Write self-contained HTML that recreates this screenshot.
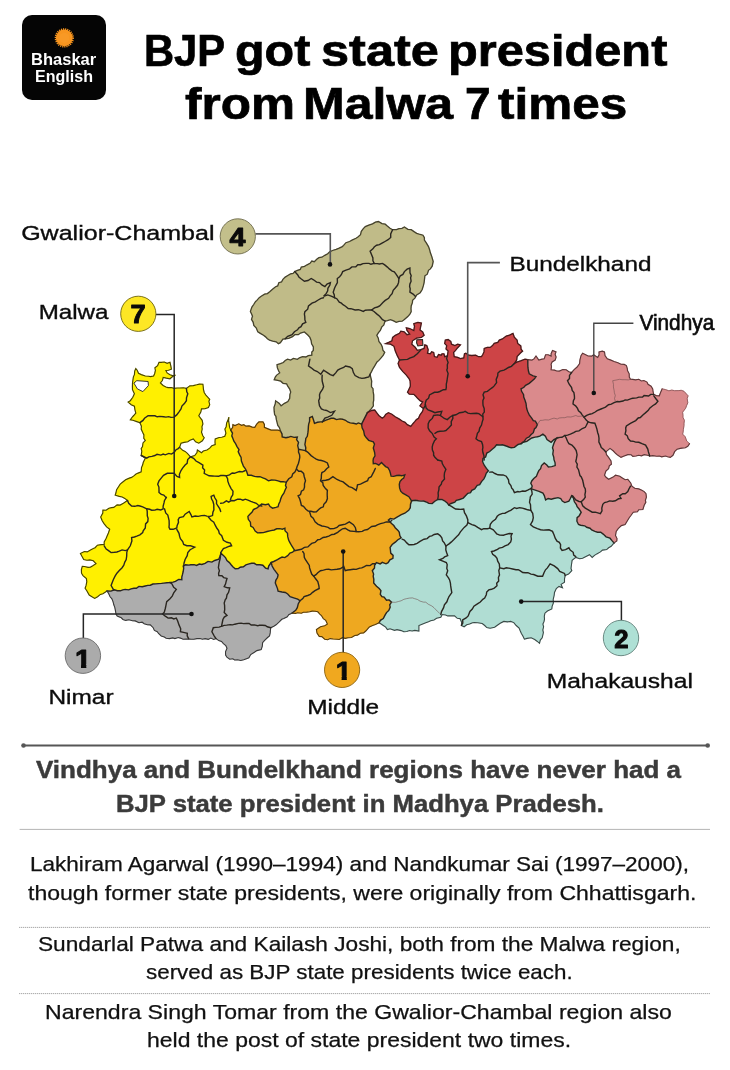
<!DOCTYPE html>
<html lang="en">
<head>
<meta charset="utf-8">
<title>BJP got state president from Malwa 7 times</title>
<style>
html,body{margin:0;padding:0;background:#fff}
body{width:730px;height:1070px;position:relative;overflow:hidden;font-family:"Liberation Sans",sans-serif}
.page{position:absolute;left:0;top:0;width:730px;height:1070px;background:#fff;overflow:hidden}
.ln{position:absolute;white-space:nowrap;line-height:1;transform-origin:0 0;margin:0;padding:0;display:block}
h1,h2,p,.blk{margin:0;padding:0}
.logo{position:absolute;left:22px;top:15.2px;width:84.3px;height:84.9px;background:#050505;border-radius:10px}
.sun{position:absolute;left:55.3px;top:28.9px;width:18px;height:18px;border-radius:50%;background:radial-gradient(circle,#f9a02c 0,#f7941e 60%,#f08c18 100%);box-shadow:0 0 1.2px 0.6px rgba(247,148,30,.85)}
.rule{position:absolute;height:0}
.map{position:absolute;left:0;top:0;width:730px;height:1070px}
.map text{font-family:"Liberation Sans",sans-serif}
</style>
</head>
<body>
<div class="page">
<div class="logo"></div>
<svg class="map" width="730" height="1070" viewBox="0 0 730 1070">
<g stroke-linejoin="miter" stroke-linecap="round">
<path d="M367.4 412.6 L369.2 410.9 L371.4 408.7 L373.4 405.8 L373.2 402.9 L373.7 400.1 L373.7 398.2 L373.7 394.8 L373.2 391.9 L373 388.7 L371.5 386.8 L371.5 383.8 L371.7 381.1 L370.7 377.1 L370.1 374.2 L371.5 371.6 L372.9 368.8 L374.7 365.9 L377 361.9 L378.9 360.4 L381.1 357.8 L383.3 355.1 L384.7 352.3 L382.9 350.3 L382.3 347 L381.1 344.3 L378.9 341.5 L378.3 338.2 L376.8 335.3 L378.3 332.9 L380.3 330.5 L381.8 326.9 L383.7 325.1 L385.1 321 L387.4 320.6 L390.5 319.6 L393.6 320.9 L396.2 322.3 L396.2 322.3 L399 321.3 L402.1 321.2 L404.4 319.6 L407.8 316.6 L409.9 314.1 L411.2 311.5 L411 308.7 L411.2 305.9 L412.4 302.7 L412.6 300.4 L414.9 298.1 L416.7 294.9 L420.2 292.7 L422.2 289.5 L423.3 285.9 L424.1 282.6 L424.6 278.4 L424.9 275.8 L427.3 274.2 L428.5 270.3 L430.4 268.9 L432.2 266.2 L433.2 261.5 L431.8 256.6 L430.3 252.6 L429.6 249.7 L428.5 246.6 L426.3 242.9 L424.4 240 L424.4 237.7 L423 235.2 L420.2 234.5 L416.7 233.3 L414.4 231.9 L411.2 229.7 L407.9 229.3 L404.4 227 L402 228.4 L398.9 228.6 L396.5 229.7 L392.6 229.7 L390 228.2 L387.3 226 L385.2 224.2 L382 223.6 L378.4 221.5 L375.4 222.1 L372.5 223.8 L368.8 225.1 L365.3 226.6 L363.3 228.6 L361.3 231.3 L360.5 234.7 L357.9 237 L356 238.3 L352 240.2 L349.6 241.5 L345.9 242.7 L343.6 245.4 L342.3 246.6 L338.6 248.4 L336.1 249.3 L332.5 250.5 L329.7 251.8 L327.7 253.8 L324.8 255.3 L321.9 257.2 L318.9 257.7 L316.7 259.3 L314.3 261.7 L311.8 261.1 L310 263.3 L307.1 264.8 L304.5 266.3 L301.3 267 L300.3 269.4 L296.8 270.6 L294.8 271.6 L293.1 273.4 L290.5 273.9 L287.8 275.5 L285.2 277.1 L282.9 279.4 L281.5 282 L278.8 282.7 L277.7 285.9 L275.6 286.7 L272.8 288.9 L270 291.5 L267.4 293.6 L264.6 294.1 L261.2 296.2 L259.2 297.7 L256.9 300.4 L255.6 301.5 L253.7 304.5 L251.9 307.1 L250.4 311.4 L251.7 314.2 L252.5 316.2 L251.5 319.4 L253.2 322.3 L253.8 325.4 L256.3 328 L257.8 331.9 L260.3 333.4 L263.5 335.3 L265.3 336.6 L267.4 338.8 L269.5 340.1 L272.7 341.1 L276.2 341.8 L278.4 343.7 L280.4 342.7 L282.9 339.2 L285.2 338.8 L288.7 338.4 L292.5 336.7 L294.8 334.7 L298.3 334.7 L300.5 333 L304.4 331.9 L307.8 335 L309.9 337.4 L311.1 340.5 L311.6 343.8 L313.4 347 L313.3 350.5 L311.8 352.1 L311.8 355.2 L308.3 355.6 L305.8 357 L302.5 356.7 L299.4 357.8 L297.4 359.3 L293.4 358.4 L290.6 360.1 L287.6 359.2 L285.2 360.5 L283.3 362.5 L280.4 363.6 L277 364.7 L277.4 367.9 L278.6 370.7 L279.7 372.9 L276.7 375.1 L275.4 376.8 L274.2 379.7 L277.8 380.4 L280.7 381.2 L283.1 383.3 L286.6 383.8 L287.6 385.9 L289.7 389.1 L290.7 392.1 L289.9 394.6 L289.7 398.4 L287.9 401.6 L284.5 403.3 L281.1 405.8 L279.3 403.4 L275.6 400.8 L275.3 403.6 L274 407.4 L274.2 411.2 L274.6 414.6 L275.9 416.3 L276.4 419.9 L277 422.2 L277.8 425.5 L279.4 427.5 L280.5 431 L280.5 431 L282 434 L282.2 437 L285.9 437.8 L288.2 437.3 L290.8 436.4 L294 437.4 L297.3 437 L296.6 439.7 L298.5 442.4 L297.7 445.6 L298.6 449.3 L301.8 449.9 L305.5 450.7 L305.8 447.8 L304.9 444.5 L305.5 441.1 L305.8 438.4 L307.3 436.3 L307.9 432.7 L308.2 430.1 L308.4 426.4 L308.7 424.1 L309.6 421.1 L309.6 417.8 L312.3 416.4 L313.2 419 L314.5 423.3 L317.5 422.3 L320.5 421.9 L322.7 421.6 L325.4 420.4 L328.8 419.2 L331.1 418.3 L333.8 418.3 L336.5 419.6 L340.1 418.9 L342.5 419.2 L345.5 420.3 L347.7 422 L350.2 422.9 L353.4 423.3 L356.4 424 L358.3 422.9 L361.6 424.1 L361.6 424.1 L367.4 412.6Z" fill="#c0bb88" stroke="#c0bb88" stroke-width="0.6"/>
<path d="M367.4 412.6 L371.5 410.5 L374.7 410 L377.2 413.4 L378.8 415.5 L382.3 418.2 L384.4 416.6 L385.6 414.4 L388.4 412.7 L391.9 414.2 L395.2 416.8 L399 418.9 L402.1 421 L405.1 422.3 L407.3 424.7 L410.8 426.4 L412.9 423.7 L414.7 421.7 L416.4 419.6 L418.5 418.2 L420 414.8 L422.5 411.4 L423.4 408.6 L419.9 405.9 L422.6 401.8 L420.3 400.9 L417.8 398.6 L415.8 396.3 L413.8 394.3 L409.2 394.1 L407.5 392.2 L408.5 390.2 L410.3 386.4 L410.3 384 L410.1 380.9 L409 378.5 L406.3 375.1 L402.9 371.6 L399.5 367.5 L398.1 363.4 L399.5 360 L397.4 355.9 L395.3 351.1 L394 346.3 L390.5 344.2 L385.8 343.6 L389.2 342.2 L391.9 340.8 L392.6 337.4 L395.3 335.3 L399.5 333.3 L400.8 331.2 L404.2 331.9 L407 334.7 L409.7 334 L407 330.5 L406.3 327.8 L409.7 328.5 L413.8 330.5 L414.5 326.4 L413.8 323.7 L417.9 322.3 L421.4 323 L420.7 326.4 L420 329.9 L422.7 331.9 L424.1 335.3 L421.4 337.4 L416.6 338.1 L412.5 340.8 L411.8 344.2 L415.2 347.3 L417.3 350.4 L420.7 349.7 L424.1 348.4 L424.8 344.9 L426.8 345.6 L428.2 349.7 L427.5 353.2 L430.3 353.8 L431.6 351.8 L433.7 352.5 L434.4 356.6 L437.1 357.3 L438.5 354.5 L441.2 355.2 L441.9 353.8 L444 353.8 L444.7 356.6 L447.4 355.9 L448.1 351.1 L446 349 L446.7 345.6 L444.7 343.6 L445.3 340.1 L448.1 339.5 L450.8 341.5 L451.5 344.2 L454.9 345.6 L457.7 344.2 L460.4 344.9 L457.7 347.7 L455.6 350.4 L453.6 352.5 L454.2 356.6 L457.7 357.3 L460.4 358.6 L463.8 357.9 L464.5 353.8 L465.9 353.2 L468.6 355.2 L471.8 355.5 L475.7 355.2 L478.5 356.7 L481.5 356.6 L482.8 354.5 L484 351.9 L484.2 348.4 L487.3 347.3 L490.2 347.4 L492.5 345.6 L494.2 343.4 L497.8 342.4 L499.3 340.1 L502.4 338.9 L506.2 336 L509.5 335.1 L513 333.3 L514.3 337.1 L517.1 340.1 L517.7 343.4 L520.8 345.9 L521.1 349.2 L522.6 351.1 L520.2 353.2 L517.1 356.6 L516.7 359.9 L514.4 363.4 L516.9 362.1 L521.2 360.7 L525 359.2 L527.8 359.6 L527.8 359.6 L527.8 364.2 L527.9 367.4 L528.4 370.8 L529.2 373.8 L533.1 375.9 L536 376.6 L534.5 378.9 L531.7 381.2 L529.2 383.4 L525.6 385.3 L523.9 387.3 L521 388.9 L521.6 391.3 L523.6 394.7 L523.7 397.1 L524.9 400.1 L526 403.5 L526.4 406.7 L526.8 409 L527.9 412 L529.2 414.9 L531.5 417.9 L533.3 420.6 L535.3 421.2 L537.4 424.5 L536 427.5 L534.4 429 L533.3 432.7 L530.9 434.8 L529.1 436.9 L526.4 438.2 L524.1 441.5 L521 443.7 L521 443.7 L518.1 444.5 L514.4 447.4 L511.2 447.8 L508.8 447 L506.2 446 L502.5 444.8 L500.1 445 L496.6 444.7 L494.6 447.3 L492.2 449.3 L489.7 451.5 L486.8 453.1 L485.6 457 L482.9 458.4 L482.6 461.7 L484.2 465.2 L486.4 468.4 L488.4 470.7 L486.2 473.4 L485.4 475.8 L483.9 478.9 L481.5 481.6 L479.7 484.7 L477.2 485.3 L474.7 488.9 L471.8 490.3 L470.5 492.6 L467.8 493.3 L465.5 495.8 L463.3 498.1 L459.6 499.5 L456.3 500.4 L454.8 502.2 L451.1 503.5 L448.6 504.9 L447.2 502.9 L444.5 500.8 L441.9 499.4 L437.7 499.5 L434.5 501.5 L432.2 503.6 L428.8 503.4 L427.2 502.3 L423.6 501 L420.9 501.1 L418.5 500.8 L415.3 500.2 L411.6 500.8 L411.6 500.8 L408.9 496.7 L405.4 494.7 L402.7 493.2 L400.7 491.2 L399.6 487.9 L399.3 484.4 L400 481.5 L401.7 479.5 L403.7 478.1 L404.8 474.8 L401.6 475.8 L399.1 475.3 L396.7 475.5 L393.7 476.4 L391.1 476.2 L390.5 473.6 L389.7 470.7 L387.8 467.5 L385.6 466.6 L383.2 464.3 L381.5 462.5 L378.8 465.2 L375.7 463.4 L373.3 463.8 L373.1 460.5 L373.4 458.4 L375 455.8 L374.7 452.9 L374 450.2 L373.3 448 L374.5 444.1 L373.3 441.9 L368.7 440.3 L366.4 437.8 L364.5 435.1 L363.7 431 L362.1 427.8 L361.6 424.1 L361.6 424.1 L367.4 412.6Z" fill="#cd4446" stroke="#cd4446" stroke-width="0.6"/>
<path d="M527.8 359.6 L531.9 360.1 L534 358.9 L536 356 L538.8 360.1 L542 359.1 L544.2 358.8 L545.6 354.7 L548.2 354.7 L551.1 356 L551.1 353.7 L552.5 350.5 L556 351.9 L555.1 354.2 L556.1 357 L555.2 360.1 L552.1 362 L551.1 364.2 L551.5 366.4 L551.1 369.7 L554.5 370.1 L556.7 371 L559.3 371.1 L562.8 369.5 L566.2 369.7 L568.9 371.8 L571.6 372.5 L574.1 369.6 L577.1 367 L579.6 363.5 L579.9 360.1 L581 355.7 L582.6 353.3 L585.7 354.8 L588.1 356 L591.7 356.1 L593.6 354.7 L597.7 357.4 L599.1 354.9 L599 351.9 L602.3 351.1 L604.5 351.9 L605 355.5 L607.3 358.8 L610.3 359.9 L614.1 361.5 L617.9 362.7 L621 364.2 L624.2 364.4 L626.4 365.6 L627.3 368.5 L627.5 370.6 L629.2 373.8 L629.3 377.1 L630.5 379.3 L632.8 379.4 L635.6 379.8 L638.8 379.3 L641.4 381 L643.9 380.5 L647 382.1 L648 384.3 L651.1 386.2 L652.7 388.9 L653.1 392 L653.8 394.4 L656.3 395.6 L659.3 395.8 L660.8 391.9 L662.1 388.9 L665.2 389.5 L668.9 390.8 L671.8 390.1 L674.6 390.7 L678.9 390.6 L681.2 390.3 L684 391.3 L686.5 394.1 L688.1 395.8 L687.2 398.6 L687.8 402.9 L686.7 405.3 L685.6 408.3 L682.6 412.2 L683 415.6 L682.9 417.2 L684.4 420.4 L684 423.2 L684 425.4 L683.4 429.3 L683.1 432.1 L682.6 434.1 L685.2 436.8 L686.7 441 L689.5 443.7 L687.8 446.3 L685.3 447.8 L681.9 448.1 L680.4 448.4 L677.1 449.2 L674.6 451.7 L673 455.3 L670.3 457.4 L667.6 456.8 L665.5 456 L661.7 456.9 L659.3 456 L656.8 456.2 L652.7 455.7 L649.7 456 L647.5 455.3 L644.2 454.7 L641.5 455.8 L638.7 455.3 L636 456 L632.8 456.3 L631.2 454.8 L627.8 454.7 L623.5 456.3 L621 457.4 L617.6 455.1 L615.5 453.3 L613.4 451 L610 448.4 L605.9 451.9 L606.5 454.7 L608.6 457.4 L611 460.9 L611.4 464.2 L609.3 465.9 L608.6 468.6 L605.9 471.1 L604.5 475.2 L605.8 477 L608.6 479.3 L613.1 477.1 L615.5 475.2 L619.8 476.3 L622.3 477.9 L625.2 479.7 L627.8 479.3 L630.7 483 L631.9 486.2 L634.7 488.2 L638.8 488.9 L641.8 490.2 L644.2 491.6 L646 493.7 L646.4 497.1 L645.4 500.2 L645.8 502.3 L644.2 505.3 L642.9 509.5 L638.7 509.8 L637.5 511.7 L633.3 512.2 L630.9 515.5 L629.2 517.7 L626.8 521.7 L625.1 524.5 L621.4 525.6 L618.2 528.6 L616.2 531.4 L615.5 535.5 L617 538.5 L616.8 541 L614.1 542.9 L614.1 542.9 L612.2 540.9 L610 538.2 L606.1 536.8 L603.2 534.1 L600.7 532.3 L597.6 532.2 L594.9 531.4 L591.7 529.9 L590 528.2 L586.7 527.3 L584.7 525.8 L580.7 525.2 L578.5 524.5 L576.9 521.2 L577.1 517.7 L579.3 515.7 L581.2 512.2 L579.1 509 L577.1 506.7 L576.4 504.5 L574.4 501.8 L573.3 497.8 L571.6 495.8 L570.2 498.8 L568.9 501.2 L564.8 502.6 L562.3 501.1 L560.7 498.5 L558 497.6 L553.8 498.5 L551.2 499.2 L548.2 498.5 L545.6 499.9 L544.3 495.6 L542.9 493 L539 491.4 L536 490.3 L531.4 488.9 L532.2 486 L530.8 483.2 L531.9 480.7 L533.8 478.5 L536.4 476.4 L537.4 473.8 L538.8 470.6 L540.6 468.6 L541.5 465.6 L544.2 462.9 L546.8 465 L548.4 467 L551.7 466.6 L555.2 465.6 L555.1 462.8 L554 459.7 L553.8 457.4 L552.8 454.2 L553.3 450.4 L552.5 447.8 L553.6 444.3 L554.5 441.9 L556.6 438.2 L553.9 439.6 L551.1 442.3 L547 439.6 L545.4 436.3 L542.9 434.1 L539.8 436.2 L537.4 436.8 L535 437.1 L531.8 438 L529.2 439.6 L526.8 441.4 L522.9 442.2 L521 443.7 L521 443.7 L524.1 441.5 L526.4 438.2 L529.1 436.9 L530.9 434.8 L533.3 432.7 L534.4 429 L536 427.5 L537.4 424.5 L535.3 421.2 L533.3 420.6 L531.5 417.9 L529.2 414.9 L527.9 412 L526.8 409 L526.4 406.7 L526 403.5 L524.9 400.1 L523.7 397.1 L523.6 394.7 L521.6 391.3 L521 388.9 L523.9 387.3 L525.6 385.3 L529.2 383.4 L531.7 381.2 L534.5 378.9 L536 376.6 L533.1 375.9 L529.2 373.8 L528.4 370.8 L527.9 367.4 L527.8 364.2 L527.8 359.6Z" fill="#da8a8c" stroke="#da8a8c" stroke-width="0.6"/>
<path d="M614.1 542.9 L611.2 546.3 L608.6 547.8 L606.7 549.6 L602.5 550.1 L600.4 551.9 L596.8 553.9 L594.5 555.4 L592.2 557.4 L589.5 554.7 L586 556.4 L582.6 558.2 L579.7 558.8 L575.8 557.4 L572.1 560.4 L571.4 565.2 L571 568.5 L571.8 570.7 L568.6 574.1 L565.2 575.5 L564.5 578.9 L564.5 582.3 L561.1 584.4 L562.5 587.8 L559 586.4 L556.3 588.5 L554.5 592.4 L554.2 595.1 L553.2 599.5 L553.4 602.9 L552.1 606.4 L551.8 609 L547.4 611 L544.9 613.2 L544.3 616.3 L544.5 619.1 L544 621.6 L542.9 624.1 L543.6 626.8 L542.8 630 L543.4 632.5 L542.7 635.5 L542.2 637.8 L540.3 640.1 L539.5 643.3 L537 641.2 L534.7 639.5 L531.2 637.8 L527 638.4 L524.4 639.2 L522.9 635.9 L521.4 633.5 L520.3 631 L519.1 628 L516.2 625.5 L513.8 622.6 L510.7 621.4 L507.5 621.9 L503.8 621.4 L500.2 623.3 L497 625.5 L494.6 627.3 L490.1 628.2 L486.8 627.6 L484.7 625.5 L482.2 623.5 L477.8 622.7 L474.3 622.5 L472.5 622.7 L469.6 624.1 L466.7 624.8 L464.1 626.8 L461.4 625.5 L461.6 622.2 L460 618.6 L457.3 618.3 L454.5 615.9 L451.6 615.7 L447.7 615.9 L445.6 615 L442.2 614.5 L440.8 617.3 L436.6 618.3 L434 620 L430.7 620.7 L428.5 621.7 L425.8 622.7 L422.7 623.9 L418.9 625.5 L418.9 628.4 L418.9 631 L414.8 630.4 L412.1 631 L409.5 630.5 L406.8 631.5 L403.8 631.8 L401.2 630.6 L397 629.6 L394.5 630.3 L390 628.8 L387.4 629.6 L385.7 627.1 L383.3 625.5 L379.2 622.7 L379.2 622.7 L380.4 620.3 L383.3 618.6 L384.9 615.4 L386.5 612.6 L388.8 610.4 L390.2 607.1 L389.7 604.9 L391.5 602.2 L389.1 599.9 L386.5 600.2 L384.1 597.1 L381.9 596.7 L380.3 594.3 L380.9 590.6 L379.2 588.5 L376.5 586.2 L373.7 583 L373.8 579.3 L373.2 576.2 L373.6 574.1 L372.3 570.7 L374.5 567.9 L374.6 565.3 L376.4 562.5 L380.2 563.9 L382.3 562.4 L386 563.8 L388.1 562.6 L389.9 559.9 L392.9 558.4 L393.1 555.4 L390.7 553.1 L390.5 550.7 L390.1 547.4 L392.2 544.5 L395.6 541.9 L397.6 540 L401.1 537.8 L399.8 535.6 L399.3 532.3 L398 530.4 L395.2 527.7 L393.8 525.5 L391.5 523.4 L388.4 520 L390.3 518.6 L393.8 519.1 L396.6 517.3 L398.7 516.2 L401.3 514.6 L404.8 513.2 L408.7 510.3 L410.3 507.7 L410.5 504.2 L411.6 500.8 L411.6 500.8 L415.3 500.2 L418.5 500.8 L420.9 501.1 L423.6 501 L427.2 502.3 L428.8 503.4 L432.2 503.6 L434.5 501.5 L437.7 499.5 L441.9 499.4 L444.5 500.8 L447.2 502.9 L448.6 504.9 L451.1 503.5 L454.8 502.2 L456.3 500.4 L459.6 499.5 L463.3 498.1 L465.5 495.8 L467.8 493.3 L470.5 492.6 L471.8 490.3 L474.7 488.9 L477.2 485.3 L479.7 484.7 L481.5 481.6 L483.9 478.9 L485.4 475.8 L486.2 473.4 L488.4 470.7 L486.4 468.4 L484.2 465.2 L482.6 461.7 L482.9 458.4 L485.6 457 L486.8 453.1 L489.7 451.5 L492.2 449.3 L494.6 447.3 L496.6 444.7 L500.1 445 L502.5 444.8 L506.2 446 L508.8 447 L511.2 447.8 L514.4 447.4 L518.1 444.5 L521 443.7 L521 443.7 L522.9 442.2 L526.8 441.4 L529.2 439.6 L531.8 438 L535 437.1 L537.4 436.8 L539.8 436.2 L542.9 434.1 L545.4 436.3 L547 439.6 L551.1 442.3 L553.9 439.6 L556.6 438.2 L554.5 441.9 L553.6 444.3 L552.5 447.8 L553.3 450.4 L552.8 454.2 L553.8 457.4 L554 459.7 L555.1 462.8 L555.2 465.6 L551.7 466.6 L548.4 467 L546.8 465 L544.2 462.9 L541.5 465.6 L540.6 468.6 L538.8 470.6 L537.4 473.8 L536.4 476.4 L533.8 478.5 L531.9 480.7 L530.8 483.2 L532.2 486 L531.4 488.9 L536 490.3 L539 491.4 L542.9 493 L544.3 495.6 L545.6 499.9 L548.2 498.5 L551.2 499.2 L553.8 498.5 L558 497.6 L560.7 498.5 L562.3 501.1 L564.8 502.6 L568.9 501.2 L570.2 498.8 L571.6 495.8 L573.3 497.8 L574.4 501.8 L576.4 504.5 L577.1 506.7 L579.1 509 L581.2 512.2 L579.3 515.7 L577.1 517.7 L576.9 521.2 L578.5 524.5 L580.7 525.2 L584.7 525.8 L586.7 527.3 L590 528.2 L591.7 529.9 L594.9 531.4 L597.6 532.2 L600.7 532.3 L603.2 534.1 L606.1 536.8 L610 538.2 L612.2 540.9 L614.1 542.9Z" fill="#b0ddd3" stroke="#b0ddd3" stroke-width="0.6"/>
<path d="M379.2 622.7 L375.4 624.6 L372.6 625.5 L369.4 626.9 L367.9 628.6 L365.8 631 L363.6 632.9 L360.3 633.2 L357.5 635.1 L354.8 635.5 L351.5 637.5 L347.9 637.8 L345.3 638.4 L342.4 637.7 L339.2 639.5 L337 639.2 L333.2 639 L330.1 638.6 L327.7 639.7 L324.7 639.2 L321.8 636.6 L319.2 636.4 L317 633.1 L316.4 629.6 L320.5 626.8 L324.7 625.7 L327.4 624.1 L325.7 620.3 L323.3 618.6 L321.4 615.5 L319.8 614.1 L317.8 611.8 L315.1 611.3 L312.2 611.1 L309.6 611.8 L306.8 612.1 L303.4 612.3 L301.4 613.2 L297.5 612.8 L295.6 613.4 L291.8 613.2 L291.8 613.2 L295.7 610.3 L297.3 607.7 L298.3 603.7 L300 600.8 L297.7 599.2 L294.5 598.1 L290.1 596.6 L287.7 594 L285.3 592.5 L282 592 L278.1 591.2 L277.5 588.6 L276.2 585.2 L275.3 583 L275.8 580.3 L277.5 577.5 L278.1 574.8 L276.1 572.2 L274 569.3 L272.1 566 L271.2 562.5 L271.2 562.5 L273.7 561.5 L277.5 559.7 L279.5 558.4 L282.1 557.1 L284.8 557.6 L287.7 555.6 L289.9 553.1 L292.6 552.2 L294.5 550.1 L291.8 546 L289.8 542.3 L288.6 540.1 L287.7 536.4 L287.5 533.3 L285 530.8 L284.9 528.2 L282.4 529.2 L279.9 528.6 L276.7 528.8 L274.2 530 L270.8 530.6 L267.1 531.5 L263.4 532.6 L260.5 532.7 L257.5 532.9 L255.2 531.1 L253.1 527.5 L250.7 526 L250.4 522.2 L248.3 519.3 L247.9 516.4 L249.6 514.5 L252.1 512.1 L253.4 509.6 L257 507.9 L259.7 505.8 L261.6 504.1 L265.4 504.7 L268.5 504.1 L270.1 506.6 L272.6 508.2 L275.9 507.4 L278.1 506.8 L278.7 504.2 L280.1 501.2 L280.8 498.6 L282 495.8 L284 493 L284.9 490.4 L286.4 487.2 L285.5 485.6 L286.3 482.2 L283.2 481.6 L280.6 481.7 L278.1 480.8 L275.1 480.1 L271.4 480 L268.5 480.8 L265.5 478.8 L262.8 477.8 L260 476.7 L257.5 476.7 L254.4 476.4 L251.3 475.3 L247.9 475.3 L246.5 471 L245.2 468.5 L243.4 466.1 L242.5 463.8 L241.4 461.1 L241.1 457.5 L239.8 455.1 L238.2 451.7 L239 449.6 L237 446.6 L235.4 443.3 L233.9 441.2 L232.9 438.4 L231.8 435.9 L232.5 433.2 L230.7 430.1 L230.7 430.1 L232.7 427.4 L232.9 424.7 L235 425.6 L238.8 423.8 L241.5 425.3 L243.8 424.7 L245.9 426.2 L249.1 425.9 L252.2 427.1 L254.8 427.4 L256.7 424 L258.9 421.9 L263 421.9 L264.4 424.4 L264.4 427.4 L267.4 428.6 L271.2 430.1 L273.7 430 L278 430.1 L280.5 431 L280.5 431 L282 434 L282.2 437 L285.9 437.8 L288.2 437.3 L290.8 436.4 L294 437.4 L297.3 437 L296.6 439.7 L298.5 442.4 L297.7 445.6 L298.6 449.3 L301.8 449.9 L305.5 450.7 L305.8 447.8 L304.9 444.5 L305.5 441.1 L305.8 438.4 L307.3 436.3 L307.9 432.7 L308.2 430.1 L308.4 426.4 L308.7 424.1 L309.6 421.1 L309.6 417.8 L312.3 416.4 L313.2 419 L314.5 423.3 L317.5 422.3 L320.5 421.9 L322.7 421.6 L325.4 420.4 L328.8 419.2 L331.1 418.3 L333.8 418.3 L336.5 419.6 L340.1 418.9 L342.5 419.2 L345.5 420.3 L347.7 422 L350.2 422.9 L353.4 423.3 L356.4 424 L358.3 422.9 L361.6 424.1 L361.6 424.1 L362.1 427.8 L363.7 431 L364.5 435.1 L366.4 437.8 L368.7 440.3 L373.3 441.9 L374.5 444.1 L373.3 448 L374 450.2 L374.7 452.9 L375 455.8 L373.4 458.4 L373.1 460.5 L373.3 463.8 L375.7 463.4 L378.8 465.2 L381.5 462.5 L383.2 464.3 L385.6 466.6 L387.8 467.5 L389.7 470.7 L390.5 473.6 L391.1 476.2 L393.7 476.4 L396.7 475.5 L399.1 475.3 L401.6 475.8 L404.8 474.8 L403.7 478.1 L401.7 479.5 L400 481.5 L399.3 484.4 L399.6 487.9 L400.7 491.2 L402.7 493.2 L405.4 494.7 L408.9 496.7 L411.6 500.8 L411.6 500.8 L410.5 504.2 L410.3 507.7 L408.7 510.3 L404.8 513.2 L401.3 514.6 L398.7 516.2 L396.6 517.3 L393.8 519.1 L390.3 518.6 L388.4 520 L391.5 523.4 L393.8 525.5 L395.2 527.7 L398 530.4 L399.3 532.3 L399.8 535.6 L401.1 537.8 L397.6 540 L395.6 541.9 L392.2 544.5 L390.1 547.4 L390.5 550.7 L390.7 553.1 L393.1 555.4 L392.9 558.4 L389.9 559.9 L388.1 562.6 L386 563.8 L382.3 562.4 L380.2 563.9 L376.4 562.5 L374.6 565.3 L374.5 567.9 L372.3 570.7 L373.6 574.1 L373.2 576.2 L373.8 579.3 L373.7 583 L376.5 586.2 L379.2 588.5 L380.9 590.6 L380.3 594.3 L381.9 596.7 L384.1 597.1 L386.5 600.2 L389.1 599.9 L391.5 602.2 L389.7 604.9 L390.2 607.1 L388.8 610.4 L386.5 612.6 L384.9 615.4 L383.3 618.6 L380.4 620.3 L379.2 622.7Z" fill="#eea820" stroke="#eea820" stroke-width="0.6"/>
<path d="M230.7 430.1 L229.6 427.4 L229.1 423.9 L228.6 420.6 L228.9 417.1 L227.9 420.3 L226.6 423.1 L226.2 426.7 L224.9 429 L225.9 433.1 L224.8 436.3 L221.8 437.3 L219.1 437.5 L215.2 439 L215 441.9 L215.2 444.5 L211.8 445.8 L209.7 448.1 L207 450 L203.3 451 L201.5 452.7 L197.4 450 L197 452.6 L194.7 455.5 L190.5 456.8 L187.4 453.4 L185.1 451.4 L182.7 450.3 L179.6 447.3 L181 443.2 L184.1 442.4 L187.8 441.8 L190 440.2 L193.3 439 L195.6 441.8 L198.8 443.2 L202.4 440.8 L204.2 437.7 L202.8 435.8 L201.5 432.2 L202.2 429 L201.9 426.9 L202.9 424 L202.2 420.3 L200.5 418.1 L198.8 415.8 L200.8 412.1 L201.5 408.9 L205 408.8 L208.4 407.5 L209.7 404.7 L208.9 401.4 L209.7 399.3 L207.7 397.2 L206.1 395.5 L204.2 392.5 L203.4 389.1 L203.3 387.5 L202.9 384.2 L199.4 384.1 L196.7 384.8 L193.3 385.6 L189.9 385.9 L186.4 388.4 L183.4 387.8 L179.6 388 L177.2 388 L174.1 388.4 L171.3 387.5 L168 387.6 L165.9 387 L163.1 385.5 L160.4 382.9 L162.4 380.5 L163.2 377.4 L166.3 378.1 L170 378.8 L173.2 376.1 L175.5 375.2 L173.2 375.9 L170 374.7 L167.1 372.9 L165.9 370.5 L168.5 370.2 L171.4 369.2 L170.8 365.8 L170 362.3 L167.1 363.3 L164.3 362 L161.1 362.4 L159 362.3 L157.6 365.6 L154.9 367.8 L155.4 370.5 L154.7 373.5 L153.6 376 L150.5 376.6 L148.5 376.3 L145.3 376 L141.3 374.6 L138.5 373.3 L137.2 370.2 L135.8 368.6 L134.7 371.1 L134.4 374.7 L133.4 376.8 L132.9 380.2 L132.5 382.9 L132.4 387 L132.5 389.7 L134.4 393.8 L132.8 397.3 L130.3 400.7 L128.1 402.1 L131.2 404.7 L134.4 406.2 L134.9 409.6 L135.8 413 L133.7 415.5 L132.3 417 L130.3 419.9 L132.9 420.3 L136.8 421.6 L139.9 422.6 L141.4 426.2 L141.2 429.1 L142.6 432.2 L143.9 434.9 L143.8 438.4 L145.3 440.4 L143 442.9 L142.5 446.6 L141.2 448.6 L141.8 451.2 L141.2 455.5 L145.3 458.2 L143.3 462.3 L142.6 465.1 L141.5 467.6 L141.2 471.9 L138.1 473.1 L135.7 474.3 L134.2 475.6 L131.6 477.4 L129.3 478.1 L125.6 479.7 L123.4 481.5 L120.2 484.1 L119 486 L116.6 489.7 L115.9 493 L115.2 495.2 L119.3 496.4 L122.2 497 L124.8 498.4 L127.5 500.5 L123.4 503.3 L120.1 505.1 L117.1 504.9 L113.8 507.4 L111.6 507.6 L108.9 508.3 L106.1 510.2 L102.9 510.1 L102.8 513.1 L100.7 517 L102.2 520.7 L104.2 523.8 L106.6 526.9 L109.7 529.3 L108.4 533 L107 536.2 L106.2 538.2 L104.2 541.9 L104.2 544.4 L101.1 544.6 L97.4 545.2 L95.1 547.7 L93.3 548.6 L90.5 549.9 L87.2 551.9 L84.4 551.5 L80.4 553.4 L81.8 556.1 L83.7 559.5 L86.9 560.2 L89.9 559.9 L93.3 560.8 L96 563.6 L92.8 565.8 L90.5 567.1 L88 567.3 L84.5 566.5 L82.3 566.3 L81.4 569.6 L81.5 573.2 L83 575.6 L86.4 578.6 L86.8 581.7 L86.1 585.4 L85.1 588.2 L86.8 590.8 L89.2 595.1 L91.5 596.4 L94.7 598.4 L97.6 596.7 L100.4 594.4 L102.9 593.7 L107 591 L107 591 L111 591.1 L114.3 589.8 L117.4 590.7 L120.4 590.8 L122.8 589.9 L125.2 589.4 L128.6 589.9 L131.1 588.8 L133.9 588.2 L136.4 588.3 L138.9 586.4 L142.2 586.8 L145.2 586 L147.8 585.4 L150.3 585.2 L152.9 584 L155.7 583.9 L158.3 583.6 L161.5 583.4 L163.9 583.1 L166.9 582.7 L169.5 582.5 L173.1 582.1 L175.4 581.3 L178.7 579.4 L181.8 579.7 L181.8 577 L182.5 574.4 L183.2 571.5 L183.7 568.1 L183.2 566 L185.5 564.8 L189 565.1 L190.7 564.7 L194.1 564.7 L196.5 565.4 L199.3 564 L201.8 564.5 L205.1 563.3 L208 561.4 L211.9 562.1 L214.7 560.5 L218.8 559.2 L220 556.3 L221 553.2 L223.9 555.9 L225.6 557.8 L226.9 560.6 L229.4 562.6 L231.1 564.7 L232.8 566.7 L235.2 568.8 L238.4 568.5 L240.2 567.2 L243.4 566.8 L245.9 564.9 L249.1 563.9 L251.6 563.3 L254.2 563.3 L256.6 564.8 L259.9 564.7 L262.8 565.2 L265.5 568.1 L268.1 568.8 L268.7 566 L271.2 562.5 L271.2 562.5 L273.7 561.5 L277.5 559.7 L279.5 558.4 L282.1 557.1 L284.8 557.6 L287.7 555.6 L289.9 553.1 L292.6 552.2 L294.5 550.1 L291.8 546 L289.8 542.3 L288.6 540.1 L287.7 536.4 L287.5 533.3 L285 530.8 L284.9 528.2 L282.4 529.2 L279.9 528.6 L276.7 528.8 L274.2 530 L270.8 530.6 L267.1 531.5 L263.4 532.6 L260.5 532.7 L257.5 532.9 L255.2 531.1 L253.1 527.5 L250.7 526 L250.4 522.2 L248.3 519.3 L247.9 516.4 L249.6 514.5 L252.1 512.1 L253.4 509.6 L257 507.9 L259.7 505.8 L261.6 504.1 L265.4 504.7 L268.5 504.1 L270.1 506.6 L272.6 508.2 L275.9 507.4 L278.1 506.8 L278.7 504.2 L280.1 501.2 L280.8 498.6 L282 495.8 L284 493 L284.9 490.4 L286.4 487.2 L285.5 485.6 L286.3 482.2 L283.2 481.6 L280.6 481.7 L278.1 480.8 L275.1 480.1 L271.4 480 L268.5 480.8 L265.5 478.8 L262.8 477.8 L260 476.7 L257.5 476.7 L254.4 476.4 L251.3 475.3 L247.9 475.3 L246.5 471 L245.2 468.5 L243.4 466.1 L242.5 463.8 L241.4 461.1 L241.1 457.5 L239.8 455.1 L238.2 451.7 L239 449.6 L237 446.6 L235.4 443.3 L233.9 441.2 L232.9 438.4 L231.8 435.9 L232.5 433.2 L230.7 430.1Z" fill="#fff000" stroke="#fff000" stroke-width="0.6"/>
<path d="M107 591 L108.4 593.1 L110.1 596.8 L111.9 598.9 L113.1 601.9 L113.8 604.8 L114.7 607.1 L115.3 609.8 L116 614 L117.2 616.1 L121.3 617.8 L122.9 619.5 L125.7 620.4 L128.9 619.7 L132.5 620.8 L135.2 620.9 L139 622.7 L142.1 622.2 L144.2 623.8 L147.4 624.8 L150.3 624.9 L153.2 627.7 L154.4 630.4 L157.3 631.8 L158.5 633.5 L161.2 635.9 L164.3 637 L166.1 638.2 L169.5 638.6 L172.8 637.9 L174.9 638.6 L178.2 637.5 L180.4 638.1 L183.1 639.3 L186 639.1 L189 639 L191.4 639.2 L193.9 639.3 L196.9 638.6 L200.1 638.5 L202.4 639.2 L205.1 638.6 L208.3 639.4 L210.8 638.1 L213.7 639.4 L216 638.6 L218.8 640.6 L221.5 641.4 L223.4 643.7 L225.8 645.6 L227 648.2 L225.5 651.8 L225.6 655.1 L226.9 657.2 L229.7 659.2 L232.8 658.8 L234.6 660 L237.6 659.8 L240.7 660.5 L243.7 659.8 L246.5 658.7 L248.9 657.8 L250.7 654.6 L254.4 652.3 L256.9 650.6 L261.2 649.6 L262.3 646.2 L262.6 642.7 L264.4 640.6 L267.6 637.5 L269.5 635.9 L270.2 632.9 L270.4 630.2 L270.8 627.7 L273.8 626.2 L276.1 624.8 L279 622.2 L281.8 619.3 L283.8 618.4 L287.3 616.7 L288.7 614.7 L291.8 613.2 L291.8 613.2 L295.7 610.3 L297.3 607.7 L298.3 603.7 L300 600.8 L297.7 599.2 L294.5 598.1 L290.1 596.6 L287.7 594 L285.3 592.5 L282 592 L278.1 591.2 L277.5 588.6 L276.2 585.2 L275.3 583 L275.8 580.3 L277.5 577.5 L278.1 574.8 L276.1 572.2 L274 569.3 L272.1 566 L271.2 562.5 L271.2 562.5 L268.7 566 L268.1 568.8 L265.5 568.1 L262.8 565.2 L259.9 564.7 L256.6 564.8 L254.2 563.3 L251.6 563.3 L249.1 563.9 L245.9 564.9 L243.4 566.8 L240.2 567.2 L238.4 568.5 L235.2 568.8 L232.8 566.7 L231.1 564.7 L229.4 562.6 L226.9 560.6 L225.6 557.8 L223.9 555.9 L221 553.2 L220 556.3 L218.8 559.2 L214.7 560.5 L211.9 562.1 L208 561.4 L205.1 563.3 L201.8 564.5 L199.3 564 L196.5 565.4 L194.1 564.7 L190.7 564.7 L189 565.1 L185.5 564.8 L183.2 566 L183.7 568.1 L183.2 571.5 L182.5 574.4 L181.8 577 L181.8 579.7 L178.7 579.4 L175.4 581.3 L173.1 582.1 L169.5 582.5 L166.9 582.7 L163.9 583.1 L161.5 583.4 L158.3 583.6 L155.7 583.9 L152.9 584 L150.3 585.2 L147.8 585.4 L145.2 586 L142.2 586.8 L138.9 586.4 L136.4 588.3 L133.9 588.2 L131.1 588.8 L128.6 589.9 L125.2 589.4 L122.8 589.9 L120.4 590.8 L117.4 590.7 L114.3 589.8 L111 591.1 L107 591Z" fill="#adadad" stroke="#adadad" stroke-width="0.6"/>
<path d="M416.8 339.7 L422.5 339.5 L422.9 345.3 L417.9 346 L416.6 342.9Z" fill="#cd4446" stroke="#2a2620" stroke-width="1.1"/>
<path d="M137.1 380.7 L148.1 381.5 L148.4 385.6 L142.9 391.6 L137.4 388.9 L134.1 383.4Z" fill="#fff" stroke="#222" stroke-width="0.9"/>
<g fill="none" stroke="#2a2620" stroke-width="1.4">
<path d="M280.5 431 L282 434 L282.2 437 L285.9 437.8 L288.2 437.3 L290.8 436.4 L294 437.4 L297.3 437 L296.6 439.7 L298.5 442.4 L297.7 445.6 L298.6 449.3 L301.8 449.9 L305.5 450.7 L305.8 447.8 L304.9 444.5 L305.5 441.1 L305.8 438.4 L307.3 436.3 L307.9 432.7 L308.2 430.1 L308.4 426.4 L308.7 424.1 L309.6 421.1 L309.6 417.8 L312.3 416.4 L313.2 419 L314.5 423.3 L317.5 422.3 L320.5 421.9 L322.7 421.6 L325.4 420.4 L328.8 419.2 L331.1 418.3 L333.8 418.3 L336.5 419.6 L340.1 418.9 L342.5 419.2 L345.5 420.3 L347.7 422 L350.2 422.9 L353.4 423.3 L356.4 424 L358.3 422.9 L361.6 424.1"/>
<path d="M361.6 424.1 L367.4 412.6"/>
<path d="M527.8 359.6 L527.8 364.2 L527.9 367.4 L528.4 370.8 L529.2 373.8 L533.1 375.9 L536 376.6 L534.5 378.9 L531.7 381.2 L529.2 383.4 L525.6 385.3 L523.9 387.3 L521 388.9 L521.6 391.3 L523.6 394.7 L523.7 397.1 L524.9 400.1 L526 403.5 L526.4 406.7 L526.8 409 L527.9 412 L529.2 414.9 L531.5 417.9 L533.3 420.6 L535.3 421.2 L537.4 424.5 L536 427.5 L534.4 429 L533.3 432.7 L530.9 434.8 L529.1 436.9 L526.4 438.2 L524.1 441.5 L521 443.7"/>
<path d="M521 443.7 L518.1 444.5 L514.4 447.4 L511.2 447.8 L508.8 447 L506.2 446 L502.5 444.8 L500.1 445 L496.6 444.7 L494.6 447.3 L492.2 449.3 L489.7 451.5 L486.8 453.1 L485.6 457 L482.9 458.4 L482.6 461.7 L484.2 465.2 L486.4 468.4 L488.4 470.7 L486.2 473.4 L485.4 475.8 L483.9 478.9 L481.5 481.6 L479.7 484.7 L477.2 485.3 L474.7 488.9 L471.8 490.3 L470.5 492.6 L467.8 493.3 L465.5 495.8 L463.3 498.1 L459.6 499.5 L456.3 500.4 L454.8 502.2 L451.1 503.5 L448.6 504.9 L447.2 502.9 L444.5 500.8 L441.9 499.4 L437.7 499.5 L434.5 501.5 L432.2 503.6 L428.8 503.4 L427.2 502.3 L423.6 501 L420.9 501.1 L418.5 500.8 L415.3 500.2 L411.6 500.8"/>
<path d="M411.6 500.8 L408.9 496.7 L405.4 494.7 L402.7 493.2 L400.7 491.2 L399.6 487.9 L399.3 484.4 L400 481.5 L401.7 479.5 L403.7 478.1 L404.8 474.8 L401.6 475.8 L399.1 475.3 L396.7 475.5 L393.7 476.4 L391.1 476.2 L390.5 473.6 L389.7 470.7 L387.8 467.5 L385.6 466.6 L383.2 464.3 L381.5 462.5 L378.8 465.2 L375.7 463.4 L373.3 463.8 L373.1 460.5 L373.4 458.4 L375 455.8 L374.7 452.9 L374 450.2 L373.3 448 L374.5 444.1 L373.3 441.9 L368.7 440.3 L366.4 437.8 L364.5 435.1 L363.7 431 L362.1 427.8 L361.6 424.1"/>
<path d="M614.1 542.9 L612.2 540.9 L610 538.2 L606.1 536.8 L603.2 534.1 L600.7 532.3 L597.6 532.2 L594.9 531.4 L591.7 529.9 L590 528.2 L586.7 527.3 L584.7 525.8 L580.7 525.2 L578.5 524.5 L576.9 521.2 L577.1 517.7 L579.3 515.7 L581.2 512.2 L579.1 509 L577.1 506.7 L576.4 504.5 L574.4 501.8 L573.3 497.8 L571.6 495.8 L570.2 498.8 L568.9 501.2 L564.8 502.6 L562.3 501.1 L560.7 498.5 L558 497.6 L553.8 498.5 L551.2 499.2 L548.2 498.5 L545.6 499.9 L544.3 495.6 L542.9 493 L539 491.4 L536 490.3 L531.4 488.9 L532.2 486 L530.8 483.2 L531.9 480.7 L533.8 478.5 L536.4 476.4 L537.4 473.8 L538.8 470.6 L540.6 468.6 L541.5 465.6 L544.2 462.9 L546.8 465 L548.4 467 L551.7 466.6 L555.2 465.6 L555.1 462.8 L554 459.7 L553.8 457.4 L552.8 454.2 L553.3 450.4 L552.5 447.8 L553.6 444.3 L554.5 441.9 L556.6 438.2 L553.9 439.6 L551.1 442.3 L547 439.6 L545.4 436.3 L542.9 434.1 L539.8 436.2 L537.4 436.8 L535 437.1 L531.8 438 L529.2 439.6 L526.8 441.4 L522.9 442.2 L521 443.7"/>
<path d="M379.2 622.7 L380.4 620.3 L383.3 618.6 L384.9 615.4 L386.5 612.6 L388.8 610.4 L390.2 607.1 L389.7 604.9 L391.5 602.2 L389.1 599.9 L386.5 600.2 L384.1 597.1 L381.9 596.7 L380.3 594.3 L380.9 590.6 L379.2 588.5 L376.5 586.2 L373.7 583 L373.8 579.3 L373.2 576.2 L373.6 574.1 L372.3 570.7 L374.5 567.9 L374.6 565.3 L376.4 562.5 L380.2 563.9 L382.3 562.4 L386 563.8 L388.1 562.6 L389.9 559.9 L392.9 558.4 L393.1 555.4 L390.7 553.1 L390.5 550.7 L390.1 547.4 L392.2 544.5 L395.6 541.9 L397.6 540 L401.1 537.8 L399.8 535.6 L399.3 532.3 L398 530.4 L395.2 527.7 L393.8 525.5 L391.5 523.4 L388.4 520 L390.3 518.6 L393.8 519.1 L396.6 517.3 L398.7 516.2 L401.3 514.6 L404.8 513.2 L408.7 510.3 L410.3 507.7 L410.5 504.2 L411.6 500.8"/>
<path d="M291.8 613.2 L295.7 610.3 L297.3 607.7 L298.3 603.7 L300 600.8 L297.7 599.2 L294.5 598.1 L290.1 596.6 L287.7 594 L285.3 592.5 L282 592 L278.1 591.2 L277.5 588.6 L276.2 585.2 L275.3 583 L275.8 580.3 L277.5 577.5 L278.1 574.8 L276.1 572.2 L274 569.3 L272.1 566 L271.2 562.5"/>
<path d="M271.2 562.5 L273.7 561.5 L277.5 559.7 L279.5 558.4 L282.1 557.1 L284.8 557.6 L287.7 555.6 L289.9 553.1 L292.6 552.2 L294.5 550.1 L291.8 546 L289.8 542.3 L288.6 540.1 L287.7 536.4 L287.5 533.3 L285 530.8 L284.9 528.2 L282.4 529.2 L279.9 528.6 L276.7 528.8 L274.2 530 L270.8 530.6 L267.1 531.5 L263.4 532.6 L260.5 532.7 L257.5 532.9 L255.2 531.1 L253.1 527.5 L250.7 526 L250.4 522.2 L248.3 519.3 L247.9 516.4 L249.6 514.5 L252.1 512.1 L253.4 509.6 L257 507.9 L259.7 505.8 L261.6 504.1 L265.4 504.7 L268.5 504.1 L270.1 506.6 L272.6 508.2 L275.9 507.4 L278.1 506.8 L278.7 504.2 L280.1 501.2 L280.8 498.6 L282 495.8 L284 493 L284.9 490.4 L286.4 487.2 L285.5 485.6 L286.3 482.2 L283.2 481.6 L280.6 481.7 L278.1 480.8 L275.1 480.1 L271.4 480 L268.5 480.8 L265.5 478.8 L262.8 477.8 L260 476.7 L257.5 476.7 L254.4 476.4 L251.3 475.3 L247.9 475.3 L246.5 471 L245.2 468.5 L243.4 466.1 L242.5 463.8 L241.4 461.1 L241.1 457.5 L239.8 455.1 L238.2 451.7 L239 449.6 L237 446.6 L235.4 443.3 L233.9 441.2 L232.9 438.4 L231.8 435.9 L232.5 433.2 L230.7 430.1"/>
<path d="M107 591 L111 591.1 L114.3 589.8 L117.4 590.7 L120.4 590.8 L122.8 589.9 L125.2 589.4 L128.6 589.9 L131.1 588.8 L133.9 588.2 L136.4 588.3 L138.9 586.4 L142.2 586.8 L145.2 586 L147.8 585.4 L150.3 585.2 L152.9 584 L155.7 583.9 L158.3 583.6 L161.5 583.4 L163.9 583.1 L166.9 582.7 L169.5 582.5 L173.1 582.1 L175.4 581.3 L178.7 579.4 L181.8 579.7 L181.8 577 L182.5 574.4 L183.2 571.5 L183.7 568.1 L183.2 566 L185.5 564.8 L189 565.1 L190.7 564.7 L194.1 564.7 L196.5 565.4 L199.3 564 L201.8 564.5 L205.1 563.3 L208 561.4 L211.9 562.1 L214.7 560.5 L218.8 559.2 L220 556.3 L221 553.2 L223.9 555.9 L225.6 557.8 L226.9 560.6 L229.4 562.6 L231.1 564.7 L232.8 566.7 L235.2 568.8 L238.4 568.5 L240.2 567.2 L243.4 566.8 L245.9 564.9 L249.1 563.9 L251.6 563.3 L254.2 563.3 L256.6 564.8 L259.9 564.7 L262.8 565.2 L265.5 568.1 L268.1 568.8 L268.7 566 L271.2 562.5"/>
</g>
<g fill="none">
<path d="M367.4 412.6 L369.2 410.9 L371.4 408.7 L373.4 405.8 L373.2 402.9 L373.7 400.1 L373.7 398.2 L373.7 394.8 L373.2 391.9 L373 388.7 L371.5 386.8 L371.5 383.8 L371.7 381.1 L370.7 377.1 L370.1 374.2 L371.5 371.6 L372.9 368.8 L374.7 365.9 L377 361.9 L378.9 360.4 L381.1 357.8 L383.3 355.1 L384.7 352.3 L382.9 350.3 L382.3 347 L381.1 344.3 L378.9 341.5 L378.3 338.2 L376.8 335.3 L378.3 332.9 L380.3 330.5 L381.8 326.9 L383.7 325.1 L385.1 321 L387.4 320.6 L390.5 319.6 L393.6 320.9 L396.2 322.3 L396.2 322.3 L399 321.3 L402.1 321.2 L404.4 319.6 L407.8 316.6 L409.9 314.1 L411.2 311.5 L411 308.7 L411.2 305.9 L412.4 302.7 L412.6 300.4 L414.9 298.1 L416.7 294.9 L420.2 292.7 L422.2 289.5 L423.3 285.9 L424.1 282.6 L424.6 278.4 L424.9 275.8 L427.3 274.2 L428.5 270.3 L430.4 268.9 L432.2 266.2 L433.2 261.5 L431.8 256.6 L430.3 252.6 L429.6 249.7 L428.5 246.6 L426.3 242.9 L424.4 240 L424.4 237.7 L423 235.2 L420.2 234.5 L416.7 233.3 L414.4 231.9 L411.2 229.7 L407.9 229.3 L404.4 227 L402 228.4 L398.9 228.6 L396.5 229.7 L392.6 229.7 L390 228.2 L387.3 226 L385.2 224.2 L382 223.6 L378.4 221.5 L375.4 222.1 L372.5 223.8 L368.8 225.1 L365.3 226.6 L363.3 228.6 L361.3 231.3 L360.5 234.7 L357.9 237 L356 238.3 L352 240.2 L349.6 241.5 L345.9 242.7 L343.6 245.4 L342.3 246.6 L338.6 248.4 L336.1 249.3 L332.5 250.5 L329.7 251.8 L327.7 253.8 L324.8 255.3 L321.9 257.2 L318.9 257.7 L316.7 259.3 L314.3 261.7 L311.8 261.1 L310 263.3 L307.1 264.8 L304.5 266.3 L301.3 267 L300.3 269.4 L296.8 270.6 L294.8 271.6 L293.1 273.4 L290.5 273.9 L287.8 275.5 L285.2 277.1 L282.9 279.4 L281.5 282 L278.8 282.7 L277.7 285.9 L275.6 286.7 L272.8 288.9 L270 291.5 L267.4 293.6 L264.6 294.1 L261.2 296.2 L259.2 297.7 L256.9 300.4 L255.6 301.5 L253.7 304.5 L251.9 307.1 L250.4 311.4 L251.7 314.2 L252.5 316.2 L251.5 319.4 L253.2 322.3 L253.8 325.4 L256.3 328 L257.8 331.9 L260.3 333.4 L263.5 335.3 L265.3 336.6 L267.4 338.8 L269.5 340.1 L272.7 341.1 L276.2 341.8 L278.4 343.7 L280.4 342.7 L282.9 339.2 L285.2 338.8 L288.7 338.4 L292.5 336.7 L294.8 334.7 L298.3 334.7 L300.5 333 L304.4 331.9 L307.8 335 L309.9 337.4 L311.1 340.5 L311.6 343.8 L313.4 347 L313.3 350.5 L311.8 352.1 L311.8 355.2 L308.3 355.6 L305.8 357 L302.5 356.7 L299.4 357.8 L297.4 359.3 L293.4 358.4 L290.6 360.1 L287.6 359.2 L285.2 360.5 L283.3 362.5 L280.4 363.6 L277 364.7 L277.4 367.9 L278.6 370.7 L279.7 372.9 L276.7 375.1 L275.4 376.8 L274.2 379.7 L277.8 380.4 L280.7 381.2 L283.1 383.3 L286.6 383.8 L287.6 385.9 L289.7 389.1 L290.7 392.1 L289.9 394.6 L289.7 398.4 L287.9 401.6 L284.5 403.3 L281.1 405.8 L279.3 403.4 L275.6 400.8 L275.3 403.6 L274 407.4 L274.2 411.2 L274.6 414.6 L275.9 416.3 L276.4 419.9 L277 422.2 L277.8 425.5 L279.4 427.5 L280.5 431" stroke="#45422c" stroke-width="1.3"/>
<path d="M367.4 412.6 L371.5 410.5 L374.7 410 L377.2 413.4 L378.8 415.5 L382.3 418.2 L384.4 416.6 L385.6 414.4 L388.4 412.7 L391.9 414.2 L395.2 416.8 L399 418.9 L402.1 421 L405.1 422.3 L407.3 424.7 L410.8 426.4 L412.9 423.7 L414.7 421.7 L416.4 419.6 L418.5 418.2 L420 414.8 L422.5 411.4 L423.4 408.6 L419.9 405.9 L422.6 401.8 L420.3 400.9 L417.8 398.6 L415.8 396.3 L413.8 394.3 L409.2 394.1 L407.5 392.2 L408.5 390.2 L410.3 386.4 L410.3 384 L410.1 380.9 L409 378.5 L406.3 375.1 L402.9 371.6 L399.5 367.5 L398.1 363.4 L399.5 360 L397.4 355.9 L395.3 351.1 L394 346.3 L390.5 344.2 L385.8 343.6 L389.2 342.2 L391.9 340.8 L392.6 337.4 L395.3 335.3 L399.5 333.3 L400.8 331.2 L404.2 331.9 L407 334.7 L409.7 334 L407 330.5 L406.3 327.8 L409.7 328.5 L413.8 330.5 L414.5 326.4 L413.8 323.7 L417.9 322.3 L421.4 323 L420.7 326.4 L420 329.9 L422.7 331.9 L424.1 335.3 L421.4 337.4 L416.6 338.1 L412.5 340.8 L411.8 344.2 L415.2 347.3 L417.3 350.4 L420.7 349.7 L424.1 348.4 L424.8 344.9 L426.8 345.6 L428.2 349.7 L427.5 353.2 L430.3 353.8 L431.6 351.8 L433.7 352.5 L434.4 356.6 L437.1 357.3 L438.5 354.5 L441.2 355.2 L441.9 353.8 L444 353.8 L444.7 356.6 L447.4 355.9 L448.1 351.1 L446 349 L446.7 345.6 L444.7 343.6 L445.3 340.1 L448.1 339.5 L450.8 341.5 L451.5 344.2 L454.9 345.6 L457.7 344.2 L460.4 344.9 L457.7 347.7 L455.6 350.4 L453.6 352.5 L454.2 356.6 L457.7 357.3 L460.4 358.6 L463.8 357.9 L464.5 353.8 L465.9 353.2 L468.6 355.2 L471.8 355.5 L475.7 355.2 L478.5 356.7 L481.5 356.6 L482.8 354.5 L484 351.9 L484.2 348.4 L487.3 347.3 L490.2 347.4 L492.5 345.6 L494.2 343.4 L497.8 342.4 L499.3 340.1 L502.4 338.9 L506.2 336 L509.5 335.1 L513 333.3 L514.3 337.1 L517.1 340.1 L517.7 343.4 L520.8 345.9 L521.1 349.2 L522.6 351.1 L520.2 353.2 L517.1 356.6 L516.7 359.9 L514.4 363.4 L516.9 362.1 L521.2 360.7 L525 359.2 L527.8 359.6" stroke="#471a1a" stroke-width="1.3"/>
<path d="M527.8 359.6 L531.9 360.1 L534 358.9 L536 356 L538.8 360.1 L542 359.1 L544.2 358.8 L545.6 354.7 L548.2 354.7 L551.1 356 L551.1 353.7 L552.5 350.5 L556 351.9 L555.1 354.2 L556.1 357 L555.2 360.1 L552.1 362 L551.1 364.2 L551.5 366.4 L551.1 369.7 L554.5 370.1 L556.7 371 L559.3 371.1 L562.8 369.5 L566.2 369.7 L568.9 371.8 L571.6 372.5 L574.1 369.6 L577.1 367 L579.6 363.5 L579.9 360.1 L581 355.7 L582.6 353.3 L585.7 354.8 L588.1 356 L591.7 356.1 L593.6 354.7 L597.7 357.4 L599.1 354.9 L599 351.9 L602.3 351.1 L604.5 351.9 L605 355.5 L607.3 358.8 L610.3 359.9 L614.1 361.5 L617.9 362.7 L621 364.2 L624.2 364.4 L626.4 365.6 L627.3 368.5 L627.5 370.6 L629.2 373.8 L629.3 377.1 L630.5 379.3 L632.8 379.4 L635.6 379.8 L638.8 379.3 L641.4 381 L643.9 380.5 L647 382.1 L648 384.3 L651.1 386.2 L652.7 388.9 L653.1 392 L653.8 394.4 L656.3 395.6 L659.3 395.8 L660.8 391.9 L662.1 388.9" stroke="#5e3738" stroke-width="1.15"/>
<path d="M662.1 388.9 L665.2 389.5 L668.9 390.8 L671.8 390.1 L674.6 390.7 L678.9 390.6 L681.2 390.3 L684 391.3 L686.5 394.1 L688.1 395.8 L687.2 398.6 L687.8 402.9 L686.7 405.3 L685.6 408.3 L682.6 412.2 L683 415.6 L682.9 417.2 L684.4 420.4 L684 423.2 L684 425.4 L683.4 429.3 L683.1 432.1 L682.6 434.1 L685.2 436.8 L686.7 441 L689.5 443.7" stroke="#8a5557" stroke-width="0.85"/>
<path d="M689.5 443.7 L687.8 446.3 L685.3 447.8 L681.9 448.1 L680.4 448.4 L677.1 449.2 L674.6 451.7 L673 455.3 L670.3 457.4 L667.6 456.8 L665.5 456 L661.7 456.9 L659.3 456 L656.8 456.2 L652.7 455.7 L649.7 456 L647.5 455.3 L644.2 454.7 L641.5 455.8 L638.7 455.3 L636 456 L632.8 456.3 L631.2 454.8 L627.8 454.7 L623.5 456.3 L621 457.4 L617.6 455.1 L615.5 453.3 L613.4 451 L610 448.4 L605.9 451.9 L606.5 454.7 L608.6 457.4 L611 460.9 L611.4 464.2 L609.3 465.9 L608.6 468.6 L605.9 471.1 L604.5 475.2 L605.8 477 L608.6 479.3 L613.1 477.1 L615.5 475.2 L619.8 476.3 L622.3 477.9 L625.2 479.7 L627.8 479.3 L630.7 483 L631.9 486.2 L634.7 488.2 L638.8 488.9 L641.8 490.2 L644.2 491.6 L646 493.7 L646.4 497.1 L645.4 500.2 L645.8 502.3 L644.2 505.3 L642.9 509.5 L638.7 509.8 L637.5 511.7 L633.3 512.2 L630.9 515.5 L629.2 517.7 L626.8 521.7 L625.1 524.5 L621.4 525.6 L618.2 528.6 L616.2 531.4 L615.5 535.5 L617 538.5 L616.8 541 L614.1 542.9" stroke="#5e3738" stroke-width="1.15"/>
<path d="M614.1 542.9 L611.2 546.3 L608.6 547.8 L606.7 549.6 L602.5 550.1 L600.4 551.9 L596.8 553.9 L594.5 555.4 L592.2 557.4 L589.5 554.7 L586 556.4 L582.6 558.2 L579.7 558.8 L575.8 557.4 L572.1 560.4 L571.4 565.2 L571 568.5 L571.8 570.7 L568.6 574.1 L565.2 575.5 L564.5 578.9 L564.5 582.3 L561.1 584.4 L562.5 587.8 L559 586.4 L556.3 588.5 L554.5 592.4 L554.2 595.1 L553.2 599.5 L553.4 602.9 L552.1 606.4 L551.8 609 L547.4 611 L544.9 613.2 L544.3 616.3 L544.5 619.1 L544 621.6 L542.9 624.1 L543.6 626.8 L542.8 630 L543.4 632.5 L542.7 635.5 L542.2 637.8 L540.3 640.1 L539.5 643.3 L537 641.2 L534.7 639.5 L531.2 637.8 L527 638.4 L524.4 639.2 L522.9 635.9 L521.4 633.5 L520.3 631 L519.1 628 L516.2 625.5 L513.8 622.6 L510.7 621.4 L507.5 621.9 L503.8 621.4 L500.2 623.3 L497 625.5 L494.6 627.3 L490.1 628.2 L486.8 627.6 L484.7 625.5 L482.2 623.5 L477.8 622.7 L474.3 622.5 L472.5 622.7 L469.6 624.1 L466.7 624.8 L464.1 626.8 L461.4 625.5 L461.6 622.2 L460 618.6 L457.3 618.3 L454.5 615.9 L451.6 615.7 L447.7 615.9 L445.6 615 L442.2 614.5 L440.8 617.3 L436.6 618.3 L434 620 L430.7 620.7 L428.5 621.7 L425.8 622.7 L422.7 623.9 L418.9 625.5 L418.9 628.4 L418.9 631 L414.8 630.4 L412.1 631 L409.5 630.5 L406.8 631.5 L403.8 631.8 L401.2 630.6 L397 629.6 L394.5 630.3 L390 628.8 L387.4 629.6 L385.7 627.1 L383.3 625.5 L379.2 622.7" stroke="#3a4a47" stroke-width="1.1"/>
<path d="M379.2 622.7 L375.4 624.6 L372.6 625.5 L369.4 626.9 L367.9 628.6 L365.8 631 L363.6 632.9 L360.3 633.2 L357.5 635.1 L354.8 635.5 L351.5 637.5 L347.9 637.8 L345.3 638.4 L342.4 637.7 L339.2 639.5 L337 639.2 L333.2 639 L330.1 638.6 L327.7 639.7 L324.7 639.2 L321.8 636.6 L319.2 636.4 L317 633.1 L316.4 629.6 L320.5 626.8 L324.7 625.7 L327.4 624.1 L325.7 620.3 L323.3 618.6 L321.4 615.5 L319.8 614.1 L317.8 611.8 L315.1 611.3 L312.2 611.1 L309.6 611.8 L306.8 612.1 L303.4 612.3 L301.4 613.2 L297.5 612.8 L295.6 613.4 L291.8 613.2" stroke="#553b0b" stroke-width="1.1"/>
<path d="M230.7 430.1 L232.7 427.4 L232.9 424.7 L235 425.6 L238.8 423.8 L241.5 425.3 L243.8 424.7 L245.9 426.2 L249.1 425.9 L252.2 427.1 L254.8 427.4 L256.7 424 L258.9 421.9 L263 421.9 L264.4 424.4 L264.4 427.4 L267.4 428.6 L271.2 430.1 L273.7 430 L278 430.1 L280.5 431" stroke="#553b0b" stroke-width="1.2"/>
<path d="M230.7 430.1 L229.6 427.4 L229.1 423.9 L228.6 420.6 L228.9 417.1 L227.9 420.3 L226.6 423.1 L226.2 426.7 L224.9 429 L225.9 433.1 L224.8 436.3 L221.8 437.3 L219.1 437.5 L215.2 439 L215 441.9 L215.2 444.5 L211.8 445.8 L209.7 448.1 L207 450 L203.3 451 L201.5 452.7 L197.4 450 L197 452.6 L194.7 455.5 L190.5 456.8 L187.4 453.4 L185.1 451.4 L182.7 450.3 L179.6 447.3 L181 443.2 L184.1 442.4 L187.8 441.8 L190 440.2 L193.3 439 L195.6 441.8 L198.8 443.2 L202.4 440.8 L204.2 437.7 L202.8 435.8 L201.5 432.2 L202.2 429 L201.9 426.9 L202.9 424 L202.2 420.3 L200.5 418.1 L198.8 415.8 L200.8 412.1 L201.5 408.9 L205 408.8 L208.4 407.5 L209.7 404.7 L208.9 401.4 L209.7 399.3 L207.7 397.2 L206.1 395.5 L204.2 392.5 L203.4 389.1 L203.3 387.5 L202.9 384.2 L199.4 384.1 L196.7 384.8 L193.3 385.6 L189.9 385.9 L186.4 388.4 L183.4 387.8 L179.6 388 L177.2 388 L174.1 388.4 L171.3 387.5 L168 387.6 L165.9 387 L163.1 385.5 L160.4 382.9 L162.4 380.5 L163.2 377.4 L166.3 378.1 L170 378.8 L173.2 376.1 L175.5 375.2 L173.2 375.9 L170 374.7 L167.1 372.9 L165.9 370.5 L168.5 370.2 L171.4 369.2 L170.8 365.8 L170 362.3 L167.1 363.3 L164.3 362 L161.1 362.4 L159 362.3 L157.6 365.6 L154.9 367.8 L155.4 370.5 L154.7 373.5 L153.6 376 L150.5 376.6 L148.5 376.3 L145.3 376 L141.3 374.6 L138.5 373.3 L137.2 370.2 L135.8 368.6 L134.7 371.1 L134.4 374.7 L133.4 376.8 L132.9 380.2 L132.5 382.9 L132.4 387 L132.5 389.7 L134.4 393.8 L132.8 397.3 L130.3 400.7 L128.1 402.1 L131.2 404.7 L134.4 406.2 L134.9 409.6 L135.8 413 L133.7 415.5 L132.3 417 L130.3 419.9 L132.9 420.3 L136.8 421.6 L139.9 422.6 L141.4 426.2 L141.2 429.1 L142.6 432.2 L143.9 434.9 L143.8 438.4 L145.3 440.4 L143 442.9 L142.5 446.6 L141.2 448.6 L141.8 451.2 L141.2 455.5 L145.3 458.2 L143.3 462.3 L142.6 465.1 L141.5 467.6 L141.2 471.9 L138.1 473.1 L135.7 474.3 L134.2 475.6 L131.6 477.4 L129.3 478.1 L125.6 479.7 L123.4 481.5 L120.2 484.1 L119 486 L116.6 489.7 L115.9 493 L115.2 495.2 L119.3 496.4 L122.2 497 L124.8 498.4 L127.5 500.5 L123.4 503.3 L120.1 505.1 L117.1 504.9 L113.8 507.4 L111.6 507.6 L108.9 508.3 L106.1 510.2 L102.9 510.1 L102.8 513.1 L100.7 517 L102.2 520.7 L104.2 523.8 L106.6 526.9 L109.7 529.3 L108.4 533 L107 536.2 L106.2 538.2 L104.2 541.9 L104.2 544.4 L101.1 544.6 L97.4 545.2 L95.1 547.7 L93.3 548.6 L90.5 549.9 L87.2 551.9 L84.4 551.5 L80.4 553.4 L81.8 556.1 L83.7 559.5 L86.9 560.2 L89.9 559.9 L93.3 560.8 L96 563.6 L92.8 565.8 L90.5 567.1 L88 567.3 L84.5 566.5 L82.3 566.3 L81.4 569.6 L81.5 573.2 L83 575.6 L86.4 578.6 L86.8 581.7 L86.1 585.4 L85.1 588.2 L86.8 590.8 L89.2 595.1 L91.5 596.4 L94.7 598.4 L97.6 596.7 L100.4 594.4 L102.9 593.7 L107 591" stroke="#474400" stroke-width="1.15"/>
<path d="M107 591 L108.4 593.1 L110.1 596.8 L111.9 598.9 L113.1 601.9 L113.8 604.8 L114.7 607.1 L115.3 609.8 L116 614 L117.2 616.1 L121.3 617.8 L122.9 619.5 L125.7 620.4 L128.9 619.7 L132.5 620.8 L135.2 620.9 L139 622.7 L142.1 622.2 L144.2 623.8 L147.4 624.8 L150.3 624.9 L153.2 627.7 L154.4 630.4 L157.3 631.8 L158.5 633.5 L161.2 635.9 L164.3 637 L166.1 638.2 L169.5 638.6 L172.8 637.9 L174.9 638.6 L178.2 637.5 L180.4 638.1 L183.1 639.3 L186 639.1 L189 639 L191.4 639.2 L193.9 639.3 L196.9 638.6 L200.1 638.5 L202.4 639.2 L205.1 638.6 L208.3 639.4 L210.8 638.1 L213.7 639.4 L216 638.6 L218.8 640.6 L221.5 641.4 L223.4 643.7 L225.8 645.6 L227 648.2 L225.5 651.8 L225.6 655.1 L226.9 657.2 L229.7 659.2 L232.8 658.8 L234.6 660 L237.6 659.8 L240.7 660.5 L243.7 659.8 L246.5 658.7 L248.9 657.8 L250.7 654.6 L254.4 652.3 L256.9 650.6 L261.2 649.6 L262.3 646.2 L262.6 642.7 L264.4 640.6 L267.6 637.5 L269.5 635.9 L270.2 632.9 L270.4 630.2 L270.8 627.7 L273.8 626.2 L276.1 624.8 L279 622.2 L281.8 619.3 L283.8 618.4 L287.3 616.7 L288.7 614.7 L291.8 613.2" stroke="#383838" stroke-width="1.1"/>
</g>
<g fill="none" stroke="#2a2620" stroke-width="1.4">
<path d="M392.6 229.7 L390.7 233.9 L390.7 237.4 L388.1 239.7 L385 241.5 L382.5 242.9 L379.4 244.7 L376.6 245.2 L374.2 247 L372.9 248.8 L370.1 251.1 L371.3 254 L372.9 258 L372.9 260.7 L374.2 263.4"/>
<path d="M374.2 263.4 L377.2 263.6 L379.4 264 L382.5 263.4 L384.7 264.9 L387.4 267.1 L389.3 268.9 L392.2 271.1 L394.3 271.8 L396.2 274.4 L398.9 278.5 L398.6 282.4 L397.5 285.3 L395.5 287.8 L393.2 290.3 L392.1 293.6 L390.1 295.9 L388.6 298.3 L385.2 300.4 L382.9 302.5 L379.7 305.9 L377.5 307 L374.5 307.9 L371.5 310 L369.3 309.9 L365.3 310.2 L363.3 311.4 L360.7 310.4 L358.4 309.7 L355.1 310 L350.9 308.7 L348.2 308.6 L345.5 306.2 L343 304.7 L341.4 303.2 L339.3 302.2 L336.8 298.7 L334.5 297.7 L334.3 295 L333.2 292.2 L334.6 288 L335.9 285.3 L337.4 282.5 L337.3 278.5 L339.6 276.8 L341.3 274.7 L342.7 271.6 L345.3 270.3 L349.6 268.9 L351.9 266.9 L355.8 266.7 L357.8 264.8 L360.5 264.7 L362.9 263.6 L366 263.4 L369 263.4 L370.9 264.3 L374.2 263.4"/>
<path d="M398.9 278.5 L400.3 275.8 L402.9 274.4 L404.4 271.6 L407.1 269.2 L409.9 268.1 L410 272.8 L411.2 275.8 L410.6 277.9 L411.1 281.2 L409.9 284 L409.6 286.5 L410.2 288.9 L409.9 292.2 L413.1 294.1 L415.3 296.3"/>
<path d="M371.5 310 L374 311.5 L377 314.1 L379.6 316.2 L382.5 319.6 L385.1 321"/>
<path d="M334.5 297.7 L331.2 296.2 L327.7 294.9 L323.6 296.3 L326.3 293.4 L327.7 290.8 L327.9 288.3 L329.9 285.1 L330.4 282.6 L327 284.1 L324.9 286.7 L321.9 284.9 L319.5 282.6 L316.6 282.1 L313.5 279.8 L311.2 278.5 L308 280.5 L304.4 281.2 L301 278.8 L298.9 277.1 L297.6 274.7 L294.8 271.6"/>
<path d="M323.6 297.7 L321 298.3 L318.2 300 L315.3 301.8 L312 303.2 L308.5 305.9 L307.7 309.2 L304.9 311.7 L304.4 314.1 L304.8 316.7 L304.9 319.9 L305.8 322.3 L302.6 323.8 L301 326.7 L298.9 327.8 L297.5 329.8 L294.4 331.7 L292.1 334.7 L287.7 336.3 L285.2 338.8"/>
<path d="M309.9 359.2 L309.1 363 L308.5 366 L311.2 367.8 L314 370.1 L317.3 371.5 L320.8 374.2 L323.6 370.1 L327.7 372.9 L330.3 374.6 L333.2 375.6 L335.7 372.9 L337.8 370.1 L340 368.8 L343.7 367.5 L345.5 366 L349.8 367 L352.3 368.8 L353.4 372.6 L355.1 375.6 L358.9 377.7 L361.9 378.4 L364.6 378 L368.8 377 L370.1 374.2"/>
<path d="M322.2 375.1 L322 378.1 L322.2 381.1 L323.1 384.5 L323.6 386.6 L322.6 389.1 L320.3 392.5 L319.5 394.8 L319.7 398.1 L318.7 400.6 L318.9 402.5 L319.5 405.8 L321.4 408.9 L323.6 409.9 L326.6 410.5 L330.4 412.6 L334.5 411.2 L331.8 415.3 L327.7 417.1 L324.9 418.1 L322.2 422.2"/>
<path d="M298.6 449.3 L298.5 452.1 L299.6 454.8 L299.8 457.3 L299.2 460.3 L298.4 463.5 L297 466.7 L296.4 469 L294.9 472 L292.7 473.9 L291.8 476.7 L288.8 478.8 L286.3 482.2"/>
<path d="M296.4 469 L298.7 471.3 L301.2 471.2 L303.6 473.4 L304.2 476.5 L305.5 480.8 L304.5 483.9 L304.5 487.2 L303.6 489.9 L301.4 491.2 L300.5 494.6 L298.1 495.9 L299.6 498.6 L300.6 502 L301.4 505.5 L303.5 506.4 L305.9 509.2 L308.2 511 L310.9 511.3 L313.8 512 L316.4 511.8 L319 509.3 L320.7 507.9 L323.3 506.8 L323.8 504.4 L326.2 501.8 L327.4 498.6 L327.2 495.3 L327.2 492.8 L327.4 490.4 L325.5 488.6 L323.2 485.4 L322.8 482.7 L320.5 480.8 L321.3 478.3 L321.4 474.8 L321.9 472.6 L324.5 471.3 L326.6 468.7 L328.8 467.1 L327.4 463 L324.3 461.4 L321.5 460.5 L318.5 460 L316.2 459.2 L313.7 457.5 L311.1 455.6 L307.9 452.3 L305.5 450.7"/>
<path d="M321.9 480.8 L325.7 480.2 L328.8 479.5 L332.9 476.7 L337 479.5 L340.2 480.9 L343.1 481.9 L345.2 483.6 L348.9 486.6 L352.1 487.7 L356.2 490.4 L357 487.5 L357.5 484.9 L360.5 484.2 L364.4 482.2 L367.6 480.7 L368.5 478.2 L371.2 476.7 L372.8 473.6 L374 471.4 L375.3 468.5"/>
<path d="M309.6 511.8 L311 516.4 L313.2 518.2 L315.1 521.9 L317.8 524.1 L321.9 526 L324.4 526.4 L328.1 527.4 L330.1 528.8 L333.8 528.6 L337 527.4 L339.1 525.5 L342.5 524.7 L345.4 524.1 L349.3 521.9 L353.4 524.7 L355.4 527.7 L356.2 531.5 L358.4 531.8 L362.2 531.4 L364.4 530.1 L367.5 529.5 L369.9 527.8 L371.7 526.5 L375.3 526 L377.3 524.8 L380.5 523.6 L383.6 522.9 L386.3 521.9 L389.6 522 L391.8 520.5"/>
<path d="M356.2 531.5 L353.9 531.4 L350.1 531 L347.8 529.9 L345.2 528.2 L342.5 528.8 L339.2 531.1 L337.7 532.5 L334.2 534.2 L332 534.5 L328.8 536.2 L326 537 L323.1 537.5 L320.1 539.4 L317.8 539.7 L315 542.4 L311.7 543.4 L309.6 545.2 L307.9 546.9 L304.4 547.4 L301.4 549.3 L298 550 L294.5 550.7"/>
<path d="M302.7 551.5 L304 553.4 L304.3 557.2 L305.5 559.7 L307.3 562.4 L309.3 565.4 L309.6 567.9 L310.7 571.2 L311.7 574.1 L313.7 576.2 L315.8 579 L317.8 581.6 L318.9 585.8 L319.2 588.5 L315 590.6 L312.3 592.6 L310.4 594.5 L307.7 595.5 L304.1 596.7 L302.8 598.6 L300 600.8"/>
<path d="M313.7 576.2 L316 574.7 L317.8 572.7 L320.5 570.7 L323.4 570.1 L326.1 569.4 L328.8 569.3 L331.3 569.9 L333.6 569.6 L337 569.3 L340 568.8 L343.8 566.6 L345.2 570.7 L347.7 570 L350.2 569.7 L353.4 569.3 L356.2 569.4 L359.6 568.1 L361.8 567.9 L364.4 566.6 L366.5 565.4 L370.1 565.6 L372.6 563.8 L375.3 563.8"/>
<path d="M447.4 355.9 L446.6 358.4 L448.1 362.5 L447.3 364.8 L447.4 368.1 L446.8 370 L448.1 373.5 L447.8 375.3 L447.3 378.5 L447 381 L446.3 384.2 L446.3 387.4 L445.9 389.5 L443.4 389.7 L439.8 391.5 L437.7 392.2 L434.5 392.3 L432.4 393.4 L429.5 394.9 L428.6 398.2 L426.2 400.2 L425.3 403.2 L425.4 405.5 L423.4 408.6"/>
<path d="M399.5 360 L404.2 359.6 L407.5 359.4 L409.7 358.2 L413.8 356.6 L417.3 353.8 L420.7 350.1"/>
<path d="M425.3 404.5 L426.2 408.1 L428.1 410 L432.4 411.5 L434.9 412.7 L437.8 412 L441.8 411.4 L440.4 415.5 L437.6 414.9 L433.6 415.5 L432.3 418.4 L429.5 421 L428.2 423.7 L428.1 427.8 L429.6 430.8 L432.2 433.3 L434.1 437.1 L436.3 438.8 L434.4 440.9 L432.9 444.2 L432.2 447 L432.4 450 L433.6 452.7 L433.6 455.2 L434.9 457.2 L437.7 460.1"/>
<path d="M440.4 415.5 L444.3 418.5 L447.3 419.6 L449.8 417.2 L452.7 415.5 L455.9 414.8 L459.6 412.7 L463 412.3 L465.1 411.4 L468 413.2 L470.5 413.6 L472.6 413.5 L476.7 413.3 L478.8 413.6 L482.9 416.8 L483.1 419.2 L482.1 422.4 L481.5 425.1 L479.7 428.1 L479 431.5 L477.4 433.3 L476.9 435.6 L476 438.8 L478.1 440.3 L481.5 441.5 L482.6 444.7 L482.9 447.5 L482.5 449.6 L482.9 452.5 L483.9 455.6 L484.2 460.1"/>
<path d="M434.9 433.3 L437.6 431.7 L440 431.3 L443.8 431.1 L445.9 430.5 L448.9 427.8 L451.4 425.1 L451.2 421.6 L452.9 418.4 L452.7 415.5"/>
<path d="M514.4 363.4 L511.4 366.3 L508.5 367.5 L506.2 368.9 L504 370.1 L500 371.2 L497.9 373 L497.7 375.8 L496.2 379.4 L496.6 382.6 L494.2 385.9 L492.6 387.4 L489.7 389.5 L487.4 391.3 L484.2 392.2 L483 394.8 L484 398 L482.9 400.4 L482.9 403.5 L483.1 405.6 L484.2 408.6 L484.3 412.1 L482.8 413.9 L482.9 416.8"/>
<path d="M437.7 460 L441.8 461.1 L442.3 463.6 L443.9 466.5 L445.9 469.3 L444.5 472.8 L444.2 476.1 L444.5 478.9 L441.8 482 L441.3 484.3 L439 487.1 L438.9 489.6 L438.1 492.8 L438.3 495.8 L437.7 499.5"/>
<path d="M448.6 504.9 L451.4 506.3 L455.5 509 L458.7 509.2 L460.3 509.4 L463.7 509 L464.5 512.7 L466.4 515.9 L467.8 519.7 L467.8 522.7 L466.9 525.1 L464.2 527.4 L462.3 529.6 L460.4 531.9 L458.6 534.9 L456.8 536.4 L453.9 539.5 L451.4 541.9 L449.4 543.6 L445.9 546 L444.3 542.9 L442.6 540.9 L441.8 537.8 L440.1 535.6 L437.7 533.7 L434.2 534.5 L431.8 535.9 L429.5 536.4 L427.1 538.6 L424 539.2 L420 541.3 L417.1 543.3 L414.1 544.5 L411.3 544.8 L408.9 544.7 L406.8 542.9 L404.3 540 L402.1 539.2"/>
<path d="M467.8 522.7 L471.9 524.7 L474.7 525.5 L477.7 527.4 L481.5 529.6 L483.7 528.6 L487.4 528.7 L489.7 528.2 L490.3 524.4 L492.5 521.4 L495.5 519.3 L497.2 516.3 L499.3 514.5 L502.5 513.4 L504.9 513.2 L507.5 511.8 L510.7 510.3 L514.4 507.7 L516.7 508.5 L519.6 507.7 L522.4 508.1 L525.3 509 L527.7 509.8 L530.8 510.4 L530.6 507 L530.5 504.7 L529.5 502.2 L530.1 499.2 L530.3 497 L532.2 494 L531.8 491 L530.8 488.5"/>
<path d="M489.7 472.1 L492.3 472 L494.9 473.5 L497.9 474.8 L501.4 475 L503.1 474.9 L506.2 476.2 L508.5 479.8 L508.9 483 L510.9 485.6 L511.7 488.2 L513 489.4 L514.4 492.6 L517.7 491.5 L519.7 491.9 L522.6 491 L525.3 491.2 L528.2 489.9 L530.8 488.5"/>
<path d="M446 546 L445.8 549.9 L446.6 552.5 L447.7 555.6 L444.6 556.9 L442.9 558.4 L439.5 559.7 L442.8 561.1 L446.3 562.5 L447.2 564.5 L446.8 568.5 L447.7 570.7 L446.3 574.8 L448.5 577.9 L449.6 579.9 L450.4 583 L450.7 585.9 L451.1 588.6 L451.8 592.6 L449 596.5 L447.7 599.5 L446.9 601.8 L444.4 604.8 L443.6 607.7 L441.5 611.6 L440.8 614.5"/>
<path d="M489.9 528.2 L493.3 529.9 L494.4 531.1 L496.7 533.8 L499.7 535.1 L503.5 535.2 L505.2 534.7 L509.3 533.5 L512.1 533.7 L511 536 L511.4 539.3 L510.7 541.9 L508.2 544.6 L505 545.9 L502.5 547.4 L499.2 548.1 L497.5 549.3 L493.9 551 L491.5 551.5 L492.7 554.2 L495.2 556.1 L497 558.4 L497.7 561.2 L499.3 563.9 L499.7 567.9 L498.8 570.5 L499.5 574.8 L498.4 577.5 L498.7 580.9 L496.7 583.3 L497 585.8 L494.3 588.1 L491.5 589.3 L488.8 589.9 L486.7 592.1 L486.3 594.7 L484.7 598.1 L482.8 599.3 L480.3 602 L477.8 603.6 L473.9 606.2 L472.3 609 L469.9 611.4 L468.2 615.9 L466.1 617.9 L462.7 620 L462.8 623 L461.4 625.5"/>
<path d="M391.5 602.2 L395.6 602.3 L398.4 601.5 L401.1 600.8 L403.9 599.3 L406.8 598.6 L409.3 598.1 L412.5 597.9 L414.4 598.6 L417.5 599.5 L420 601.1 L423.3 602.1 L425.8 602.2 L428.2 604.2 L431.7 605.9 L434 607.7 L437.2 611.1 L439.5 613.2" stroke="#6b4a4a" stroke-width="0.7" stroke-opacity="0.8"/>
<path d="M571.6 372.5 L569.5 375.4 L569.5 378.4 L567.5 380.7 L569.2 384.2 L571.6 387.5 L572.2 390.5 L573.9 392.5 L574.4 395.8 L574.5 398.5 L573.4 400.7 L573 404 L575.6 405.8 L577.5 408.4 L578.5 410.8 L580.8 412.8 L582 414.6 L584 417.1"/>
<path d="M584 417.1 L586.7 415.3 L589.7 414.2 L592.2 413.6 L595.2 412 L597.1 410.6 L601 409 L603.2 408.1 L605.5 407.1 L608.5 404.7 L611.3 404.1 L614.1 402.6 L617.2 401.5 L619.3 401.7 L623 401 L625.1 399.9 L627.4 400.1 L631.2 398.6 L632.8 398.2 L636.7 397.9 L638.8 397.1 L642.6 397.1 L644.1 395.6 L648.6 396 L650.7 394.4 L653.8 394.4"/>
<path d="M615.5 401.8 L614.5 398.5 L615.3 395.5 L614.4 392.8 L614.1 390.3 L613.4 387 L613.5 384.6 L612.7 380.7 L616.9 379.9 L619.6 379.3 L622 379.7 L624.8 379.7 L628.4 379.9 L630.5 379.3" stroke="#6b4a4a" stroke-width="0.7" stroke-opacity="0.8"/>
<path d="M584 417.1 L586.2 420.1 L588.1 421.8 L586.4 425.3 L585.3 427.3 L582.3 428.5 L579 430.9 L575.8 431.4 L573.7 432.7 L570.4 434.2 L567.6 435.1 L564.8 435.5 L562 437.3 L559.8 437.4 L556.6 438.2"/>
<path d="M537.4 424.5 L540.1 420.4 L542.5 420.3 L545 419.8 L548.7 420 L551.1 419 L554 418.1 L557.3 419 L559 418 L562.2 417.7 L564.8 417.7 L567.1 416.9 L570.9 417 L572.8 416.5 L575.8 415.5 L577.9 416.4 L581.9 416.1 L584 417.1" stroke="#6b4a4a" stroke-width="0.7" stroke-opacity="0.8"/>
<path d="M588.1 421.8 L591.2 422.8 L594.9 423.2 L595.9 425.9 L596.8 428.7 L597.7 432.7 L598.5 435 L599 438.2 L598.9 442 L600.4 445.1 L601.2 447.4 L603.6 449.6 L605.9 451.9"/>
<path d="M653.8 395.8 L655.7 398.5 L657.9 401.2 L655.6 403.9 L652.7 405.7 L649.7 408.1 L648.3 410.4 L645.4 412.9 L642.9 414.9 L640.3 417.5 L638.2 418 L635.7 420.6 L633.3 421.8 L630.4 423.3 L626.4 425.9 L625.7 427.9 L625.9 430.7 L625.1 434.1 L627.3 435.8 L628.2 438.7 L630.5 441 L633.7 441.4 L635.6 442.1 L638.8 442.3 L642 443.7 L645.6 445.1 L647.8 449.1 L648.4 451.9 L649.7 456"/>
<path d="M564.8 435.5 L566.1 437.7 L567.5 441.3 L568.9 443.7 L571.9 445.1 L574.4 447.8 L576.2 450.5 L577.1 454.7 L576.4 458.7 L575.8 461.5 L577.3 464.2 L576.9 467.2 L578.5 469.7 L579.3 472.9 L580 475.6 L581.3 476.9 L582.6 480.1"/>
<path d="M582.6 480.1 L583.4 483.5 L583.9 486.2 L585.3 488.9 L585.5 491.7 L584.9 494.5 L585.3 497.1 L583.8 499.3 L581.2 501.8 L579 501.5 L575.8 499.9 L572.5 495.8"/>
<path d="M581.2 501.8 L582.7 505.8 L585.3 508.1 L588.3 509.8 L592.2 512.2 L595.3 512.1 L597.8 512.8 L600.4 513.6 L602 510.9 L601.8 508.1 L602.8 504.3 L604.5 502.6 L607.3 501.9 L609.6 500.9 L612.7 501.2 L615.3 500.8 L618.5 498.8 L621 498.5 L619.6 495.8 L622.8 493.7 L625.2 493.7 L627.8 491.6 L628.8 489.2 L630.5 486.2"/>
<path d="M530.8 510.3 L532.7 513.3 L533.3 517.7 L532.5 521.2 L530.5 524.5 L533.3 527 L537.4 528.6 L540.6 529.7 L543.4 530.1 L545.6 530 L549 529.8 L552.5 531.4 L554 534.7 L555.2 538.2 L557 541.1 L559.3 542.3 L560.6 544.6 L560.4 548 L562.1 550.5 L565.6 549.7 L568.9 547.8 L570.2 550 L573.2 552.3 L573.7 555.2 L575.8 556.6"/>
<path d="M565.2 575.5 L564.5 573.4 L559.7 571.4 L557.7 568.6 L554.2 565.9 L550.1 563.8 L547.4 567.9 L545.5 569.8 L544 572.7 L542.6 576.2 L537.8 576.2 L533.7 574.5 L531 574.1 L527.9 572.7 L525.5 572.7 L522.7 572.5 L520 570.7 L518.2 569.7 L516 569.7 L512.7 569 L510 568.4 L506.3 567.8 L503.9 568.7 L499.7 567.9"/>
<path d="M139.9 422.6 L143 420.4 L144.5 418.3 L148.1 415.8 L151.4 415.6 L154.9 415.8 L157.2 416.8 L159.8 416.4 L163.7 416.8 L165.9 417.1 L168.7 416.6 L170.9 417.4 L174.1 417.1 L176.7 414.9 L179 411.8 L181 408.9 L181.9 406.1 L184.4 403.6 L186.4 400.7 L186.5 397.8 L187.8 393.8 L186.8 391.8 L186.4 388.4"/>
<path d="M141.2 455.5 L143.8 456.7 L146.7 458.2 L148.8 456.9 L151.9 456.4 L154.9 455.5 L157 454.3 L160.9 455.1 L163.2 454.1 L165.3 454.8 L168.8 453.4 L171.4 454.1 L174.1 452.4 L176.1 449.7 L178.2 448.6 L179.6 447.3"/>
<path d="M190.5 456.8 L193.6 458.4 L196 461 L199 462.7 L202.9 465.1 L202.6 467.8 L204.6 470 L204.2 473.3 L207.3 475 L209 475.8 L212.5 476 L214.7 476.1 L218.5 476.3 L220.6 475.5 L223.4 475.5 L226.2 475.8 L229.5 474.8 L232.2 473 L234.4 473.3 L236.9 472.3 L239.5 471.5 L242.5 471.9 L245.3 470.5"/>
<path d="M190.5 456.8 L187.7 459.6 L187.1 463.3 L185.1 465.1 L182.6 468.1 L181 470.5 L179.4 474.3 L179.6 477.4 L177 476.4 L174.1 473.3 L169.9 473.1 L167.3 473.3 L163.5 475.3 L161.8 477.4 L159 480.9 L157.7 484.2 L158.9 487.1 L159 489.8 L159 492.5 L161.3 494.4 L163.8 495.1 L165.9 497.4"/>
<path d="M226.2 476 L227.6 478.8 L227.8 481.2 L228.9 484.2 L231.1 488.6 L233 491.1 L232.8 494.8 L231.3 497 L230.3 500.1"/>
<path d="M127.5 500.5 L128.7 503.3 L131.6 506 L134.9 506.3 L137.8 505.5 L139.9 506 L142.7 506.9 L146.7 508.8 L149.7 509.3 L151.7 510.2 L154.9 510.1 L157.1 509.3 L160.8 510 L163.2 508.8 L163.1 506.4 L164 502.9 L164.5 500.5 L166.4 497.3"/>
<path d="M146.7 508.8 L147.2 511.2 L147.3 515.9 L148.1 518.4 L147.8 521.6 L145.6 523.9 L145.3 527.9 L143.2 530.9 L142.7 532.5 L139.9 534.8 L136.8 536.1 L134.4 537 L131.6 537.5 L131.9 540.9 L131.2 543 L130.3 545.8 L127.5 549.9 L125.3 550.6 L122.1 549.9 L119.3 551.2 L116.9 552 L114.4 552.3 L111.1 552.6 L108.2 550.4 L106.2 549 L104.2 545.8"/>
<path d="M127.5 549.9 L126.8 552.3 L126.7 556 L126.2 559.5 L124.8 562.1 L123.8 565.1 L122.1 567.7 L119.1 570.7 L116.9 573.2 L115.2 575.9 L113.4 579.5 L112.6 581.5 L111.1 585.5 L113.8 590.1"/>
<path d="M164.5 508.8 L165.7 512.9 L167.8 515 L168.6 518.4 L169.1 520.5 L169.2 524.5 L169 527.3 L170 529.3 L173.1 529.3 L176.8 527.9 L177.1 525.6 L178.5 522.4 L178.2 519.7 L179.4 517.6 L183.4 516.6 L185.1 514.2 L189.2 511.5 L190.9 514.6 L191.9 517 L195.2 516 L198.2 516.4 L201.5 515.6 L204.6 515.4 L206.8 516.1 L210.1 516.4 L212.5 515.6 L212.9 512.3 L213.9 509.8 L213.8 507.4 L213.8 504.5 L212.9 501.2 L211.6 499.1 L211.1 496.4 L213.8 495.1 L214.8 497.8 L216.6 500.7 L216.5 503.5 L217.9 506 L219.8 508.9 L220.7 511.5"/>
<path d="M176.8 529.3 L179 533.3 L179.6 536.2 L180.4 538.6 L182.7 541.5 L183.7 544.4 L186.8 545.7 L190.5 545.8 L194.7 547.1 L192.4 548.5 L190.1 549.7 L187.8 552.6 L187.2 555.7 L185.1 559.5 L184 563.2 L183.7 566.3"/>
<path d="M208.4 517 L211.1 520.2 L213.8 522.2 L215.2 525.2 L216.9 528.3 L218.6 530.5 L219.3 533.4 L221.7 535.7 L223.4 540.3 L227 542.3 L230.3 543 L231.6 545.8 L229.4 546.2 L226 547.7 L223.4 548.5 L220.7 552.6"/>
<path d="M220.7 503.3 L223.5 502.9 L226.4 500.9 L228.7 502.2 L231.6 500.5 L234.2 500.7 L237.7 499.1 L240.2 499.2 L242.9 500.2 L245.3 499.2 L248.6 500.3 L250.8 501.3 L252.9 502.1 L256.3 503.3 L258.4 505.2 L261.8 506"/>
<path d="M169.5 582.5 L171.8 583.7 L173.7 587.4 L176.3 589.3 L173.7 592.9 L172.2 596.2 L170 598.7 L166.7 601.6 L166 605.2 L165.3 608.5 L164.3 612.2 L162.6 614 L165.3 616.2 L168.1 618.1 L171.4 617.8 L173.8 618.9 L176.3 618.1 L177.6 620.8 L179 624.9 L180.7 628.8 L180.4 631.8 L184.6 632.6 L187.3 633.2 L187.2 635.8 L188.6 638.6"/>
<path d="M221 553.2 L220.5 556 L220.1 558.9 L219.2 562.4 L218.8 564.7 L218.4 567.7 L219.4 570.7 L218.6 573.3 L218.8 575.6 L221.9 575.8 L223.7 577.6 L227 578.4 L226.2 581.2 L225.6 583.8 L224.2 586.6 L227.5 587.8 L229.7 587.9 L228.6 592.3 L227 594.8 L226.4 598.2 L225.2 599.8 L224.2 603 L224.6 605.5 L224.7 609.6 L224.2 612.6 L227 615.3 L224.3 617.1 L222.9 619.5 L222.2 623 L221.5 626.3 L219.1 627.1 L215.7 627.4 L213.3 627.7 L211.9 631.8 L214.3 636.1 L216 638.6"/>
<path d="M221.5 626.3 L224.2 625.4 L226.7 625.1 L230.2 624.6 L232.5 624.9 L234.9 624.2 L238.4 623.4 L241.1 623.1 L243.4 623.6 L246.5 623.4 L249.1 623.5 L251.2 625 L254.4 624.9 L257.7 625.8 L259.3 625.3 L262.3 625.2 L265.3 625.5 L267.3 626.8 L270.8 627.7"/>
</g></g>
<circle cx="64.3" cy="37.9" r="8.4" fill="#f7951f"/><circle cx="64.3" cy="37.9" r="8.8" fill="none" stroke="#f7951f" stroke-width="1.7" stroke-dasharray="1.15 0.95"/><circle cx="64.3" cy="37.9" r="5" fill="#f99d2a" opacity="0.6"/>
<g fill="none" stroke="#262626" stroke-width="1.35">
<polyline points="255.4,233.9 330.3,233.9 330.3,264.2" stroke="#555" stroke-width="1.6"/>
<polyline points="155.9,314.4 174.2,314.4 174.2,496" stroke-width="1.5"/>
<polyline points="499.9,262.6 467.7,262.6 467.7,376.3" stroke="#555" stroke-width="1.6"/>
<polyline points="633.4,323.2 593.8,323.2 593.8,393" stroke="#444"/>
<polyline points="83.35,638.2 83.35,614 191.5,614" stroke-width="1.5"/>
<polyline points="343.2,652.4 343.2,551.5" stroke-width="1.5"/>
<polyline points="621.4,620.4 621.4,601.6 521.2,601.6" stroke-width="1.5"/>
</g><g fill="#111">
<circle cx="330" cy="264.4" r="2.3"/>
<circle cx="174.2" cy="496" r="2.3"/>
<circle cx="467.7" cy="376.3" r="2.3"/>
<circle cx="593.8" cy="393" r="2.3"/>
<circle cx="191.5" cy="614" r="2.3"/>
<circle cx="343.2" cy="551.5" r="2.3"/>
<circle cx="521.2" cy="601.6" r="2.3"/>
</g>
<clipPath id="one"><rect x="-6" y="-32" width="34" height="28.50"/><rect x="5.60" y="-8" width="4.80" height="8.50"/></clipPath>
<circle cx="237.8" cy="236.4" r="17.6" fill="#c3bf8b" stroke="#6e6b4c" stroke-width="0.9"/>
<text transform="translate(229.54,246.40) scale(1.081,1)" font-size="26.5" font-weight="bold" fill="#0a0a0a" stroke="#0a0a0a" stroke-width="1" stroke-linejoin="round">4</text>
<circle cx="138.3" cy="313.8" r="17.6" fill="#fde725" stroke="#6e6410" stroke-width="0.9"/>
<text transform="translate(130.56,323.40) scale(1.028,1)" font-size="26.5" font-weight="bold" fill="#0a0a0a" stroke="#0a0a0a" stroke-width="1" stroke-linejoin="round">7</text>
<circle cx="82.9" cy="655.7" r="17.7" fill="#ababab" stroke="#6a6a6a" stroke-width="0.9"/>
<text transform="translate(74.91,667.50) scale(1.090,1)" clip-path="url(#one)" font-size="26.5" font-weight="bold" fill="#0a0a0a" stroke="#0a0a0a" stroke-width="1" stroke-linejoin="round">1</text>
<circle cx="342.1" cy="669.9" r="17.6" fill="#f0a81f" stroke="#8a6210" stroke-width="0.9"/>
<text transform="translate(335.77,679.50) scale(1.054,1)" clip-path="url(#one)" font-size="26.5" font-weight="bold" fill="#0a0a0a" stroke="#0a0a0a" stroke-width="1" stroke-linejoin="round">1</text>
<circle cx="621" cy="638" r="17.7" fill="#aee0d5" stroke="#5f7f78" stroke-width="0.9"/>
<text transform="translate(614.33,648.30) scale(0.971,1)" font-size="26.5" font-weight="bold" fill="#0a0a0a" stroke="#0a0a0a" stroke-width="1" stroke-linejoin="round">2</text>
<text x="21.15" y="240.1" font-size="20.5" textLength="193.33" lengthAdjust="spacingAndGlyphs" fill="#0c0c0c" stroke="#0c0c0c" stroke-width="0.35">Gwalior-Chambal</text>
<text x="38.71" y="319.4" font-size="20.5" textLength="69.81" lengthAdjust="spacingAndGlyphs" fill="#0c0c0c" stroke="#0c0c0c" stroke-width="0.35">Malwa</text>
<text x="509.50" y="271" font-size="20.5" textLength="141.93" lengthAdjust="spacingAndGlyphs" fill="#0c0c0c" stroke="#0c0c0c" stroke-width="0.35">Bundelkhand</text>
<text x="639.38" y="330.4" font-size="21.5" textLength="74.85" lengthAdjust="spacingAndGlyphs" fill="#0c0c0c" stroke="#0c0c0c" stroke-width="0.65">Vindhya</text>
<text x="48.49" y="704.1" font-size="20.5" textLength="65.03" lengthAdjust="spacingAndGlyphs" fill="#0c0c0c" stroke="#0c0c0c" stroke-width="0.35">Nimar</text>
<text x="307.29" y="714" font-size="20.5" textLength="71.89" lengthAdjust="spacingAndGlyphs" fill="#0c0c0c" stroke="#0c0c0c" stroke-width="0.35">Middle</text>
<text x="546.68" y="688.4" font-size="20.5" textLength="146.19" lengthAdjust="spacingAndGlyphs" fill="#0c0c0c" stroke="#0c0c0c" stroke-width="0.35">Mahakaushal</text>
<line x1="23.5" y1="745.5" x2="707.7" y2="745.5" stroke="#565656" stroke-width="2"/>
<circle cx="23.5" cy="745.5" r="2.3" fill="#565656"/><circle cx="707.7" cy="745.5" r="2.3" fill="#565656"/>
<line x1="19.6" y1="829.4" x2="710" y2="829.4" stroke="#b4b4b4" stroke-width="1"/>
<line x1="19" y1="927.4" x2="710" y2="927.4" stroke="#a8a8a8" stroke-width="1" stroke-dasharray="1.3 0.7"/>
<line x1="19" y1="993.6" x2="710" y2="993.6" stroke="#a8a8a8" stroke-width="1" stroke-dasharray="1.3 0.7"/>
</svg>
<h1 class="blk" style="font-size:43.5px;font-weight:bold;color:#000;-webkit-text-stroke:0.7px #000">
<span class="ln" style="left:144.28px;top:30.00px;transform:scaleX(0.9583)">BJP</span> <span class="ln" style="left:234.80px;top:30.00px;transform:scaleX(1.1142)">got</span> <span class="ln" style="left:321.31px;top:30.00px;transform:scaleX(1.1614)">state</span> <span class="ln" style="left:447.69px;top:30.00px;transform:scaleX(1.1204)">president</span>
<span class="ln" style="left:184.70px;top:83.00px;transform:scaleX(1.1378)">from</span> <span class="ln" style="left:302.70px;top:83.00px;transform:scaleX(1.1499)">Malwa</span> <span class="ln" style="left:465.10px;top:83.00px;transform:scaleX(1.0585)">7</span> <span class="ln" style="left:498.38px;top:83.00px;transform:scaleX(1.1371)">times</span>
</h1>
<h2 class="blk" style="font-size:23.5px;font-weight:bold;color:#3b3b3b;-webkit-text-stroke:0.45px #3b3b3b">
<span class="ln" style="left:36.05px;top:759.00px;transform:scaleX(1.1058)">Vindhya and Bundelkhand regions have never had a</span>
<span class="ln" style="left:115.58px;top:793.00px;transform:scaleX(1.0933)">BJP state president in Madhya Pradesh.</span>
</h2>
<p class="blk" style="font-size:20.3px;font-weight:normal;color:#111;-webkit-text-stroke:0.25px #111">
<span class="ln" style="left:30.18px;top:854.00px;transform:scaleX(1.1112)">Lakhiram Agarwal (1990–1994) and Nandkumar Sai (1997–2000),</span>
<span class="ln" style="left:28.24px;top:883.00px;transform:scaleX(1.1359)">though former state presidents, were originally from Chhattisgarh.</span>
</p>
<p class="blk" style="font-size:20.3px;font-weight:normal;color:#111;-webkit-text-stroke:0.25px #111">
<span class="ln" style="left:38.41px;top:934.00px;transform:scaleX(1.1179)">Sundarlal Patwa and Kailash Joshi, both from the Malwa region,</span>
<span class="ln" style="left:145.97px;top:962.00px;transform:scaleX(1.1046)">served as BJP state presidents twice each.</span>
</p>
<p class="blk" style="font-size:20.3px;font-weight:normal;color:#111;-webkit-text-stroke:0.25px #111">
<span class="ln" style="left:45.43px;top:1002.00px;transform:scaleX(1.1379)">Narendra Singh Tomar from the Gwalior-Chambal region also</span>
<span class="ln" style="left:147.33px;top:1030.00px;transform:scaleX(1.1330)">held the post of state president two times.</span>
</p>
<div class="blk" style="font-size:16.5px;font-weight:bold;color:#fff">
<span class="ln" style="left:31.40px;top:51.00px;transform:scaleX(1.0008)">Bhaskar</span>
<span class="ln" style="left:35.43px;top:68.00px;transform:scaleX(0.9722)">English</span>
</div>
</div>
</body>
</html>
